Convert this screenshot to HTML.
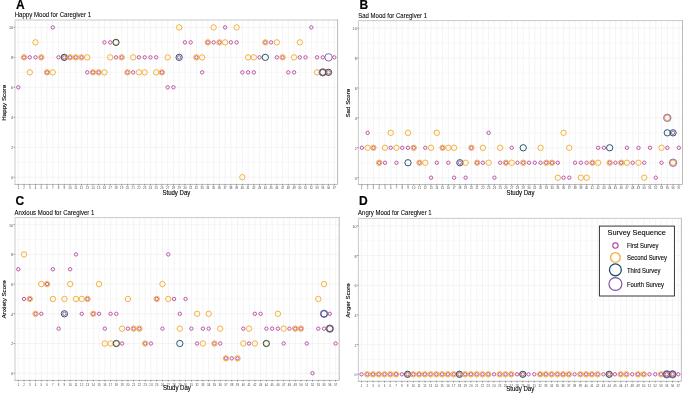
<!DOCTYPE html>
<html><head><meta charset="utf-8"><style>
html,body{margin:0;padding:0;background:#fff;}
svg{display:block;will-change:transform;}
text{font-family:"Liberation Sans",sans-serif;fill-opacity:0.995;}
.yt{font-size:3.7px;fill:#4d4d4d;text-anchor:end;}
.xt{font-size:2.95px;fill:#4d4d4d;text-anchor:middle;}
.lt{font-size:12px;font-weight:bold;fill:#000;stroke:#000;stroke-width:0.18px;}
.st{font-size:6.35px;fill:#000;stroke:#000;stroke-width:0.07px;}
.at{font-size:6.35px;fill:#000;stroke:#000;stroke-width:0.12px;}
.yl{font-size:6.2px;fill:#000;stroke:#000;stroke-width:0.12px;}
.lgt{font-size:7.6px;fill:#000;stroke:#000;stroke-width:0.1px;}
.lg{font-size:6.4px;fill:#000;stroke:#000;stroke-width:0.1px;}
</style></head><body>
<svg width="685" height="395" viewBox="0 0 685 395">
<line x1="14.85" x2="337.90" y1="162.22" y2="162.22" stroke="#F3F3F3" stroke-width="0.6"/>
<line x1="14.85" x2="337.90" y1="132.26" y2="132.26" stroke="#F3F3F3" stroke-width="0.6"/>
<line x1="14.85" x2="337.90" y1="102.30" y2="102.30" stroke="#F3F3F3" stroke-width="0.6"/>
<line x1="14.85" x2="337.90" y1="72.34" y2="72.34" stroke="#F3F3F3" stroke-width="0.6"/>
<line x1="14.85" x2="337.90" y1="42.38" y2="42.38" stroke="#F3F3F3" stroke-width="0.6"/>
<line x1="14.85" x2="337.90" y1="177.20" y2="177.20" stroke="#F1F1F1" stroke-width="0.8"/>
<line x1="14.85" x2="337.90" y1="147.24" y2="147.24" stroke="#F1F1F1" stroke-width="0.8"/>
<line x1="14.85" x2="337.90" y1="117.28" y2="117.28" stroke="#F1F1F1" stroke-width="0.8"/>
<line x1="14.85" x2="337.90" y1="87.32" y2="87.32" stroke="#F1F1F1" stroke-width="0.8"/>
<line x1="14.85" x2="337.90" y1="57.36" y2="57.36" stroke="#F1F1F1" stroke-width="0.8"/>
<line x1="14.85" x2="337.90" y1="27.40" y2="27.40" stroke="#F1F1F1" stroke-width="0.8"/>
<line x1="18.30" x2="18.30" y1="19.80" y2="184.40" stroke="#F1F1F1" stroke-width="0.8"/>
<line x1="24.05" x2="24.05" y1="19.80" y2="184.40" stroke="#F1F1F1" stroke-width="0.8"/>
<line x1="29.79" x2="29.79" y1="19.80" y2="184.40" stroke="#F1F1F1" stroke-width="0.8"/>
<line x1="35.53" x2="35.53" y1="19.80" y2="184.40" stroke="#F1F1F1" stroke-width="0.8"/>
<line x1="41.28" x2="41.28" y1="19.80" y2="184.40" stroke="#F1F1F1" stroke-width="0.8"/>
<line x1="47.03" x2="47.03" y1="19.80" y2="184.40" stroke="#F1F1F1" stroke-width="0.8"/>
<line x1="52.77" x2="52.77" y1="19.80" y2="184.40" stroke="#F1F1F1" stroke-width="0.8"/>
<line x1="58.52" x2="58.52" y1="19.80" y2="184.40" stroke="#F1F1F1" stroke-width="0.8"/>
<line x1="64.26" x2="64.26" y1="19.80" y2="184.40" stroke="#F1F1F1" stroke-width="0.8"/>
<line x1="70.00" x2="70.00" y1="19.80" y2="184.40" stroke="#F1F1F1" stroke-width="0.8"/>
<line x1="75.75" x2="75.75" y1="19.80" y2="184.40" stroke="#F1F1F1" stroke-width="0.8"/>
<line x1="81.50" x2="81.50" y1="19.80" y2="184.40" stroke="#F1F1F1" stroke-width="0.8"/>
<line x1="87.24" x2="87.24" y1="19.80" y2="184.40" stroke="#F1F1F1" stroke-width="0.8"/>
<line x1="92.98" x2="92.98" y1="19.80" y2="184.40" stroke="#F1F1F1" stroke-width="0.8"/>
<line x1="98.73" x2="98.73" y1="19.80" y2="184.40" stroke="#F1F1F1" stroke-width="0.8"/>
<line x1="104.47" x2="104.47" y1="19.80" y2="184.40" stroke="#F1F1F1" stroke-width="0.8"/>
<line x1="110.22" x2="110.22" y1="19.80" y2="184.40" stroke="#F1F1F1" stroke-width="0.8"/>
<line x1="115.97" x2="115.97" y1="19.80" y2="184.40" stroke="#F1F1F1" stroke-width="0.8"/>
<line x1="121.71" x2="121.71" y1="19.80" y2="184.40" stroke="#F1F1F1" stroke-width="0.8"/>
<line x1="127.45" x2="127.45" y1="19.80" y2="184.40" stroke="#F1F1F1" stroke-width="0.8"/>
<line x1="133.20" x2="133.20" y1="19.80" y2="184.40" stroke="#F1F1F1" stroke-width="0.8"/>
<line x1="138.94" x2="138.94" y1="19.80" y2="184.40" stroke="#F1F1F1" stroke-width="0.8"/>
<line x1="144.69" x2="144.69" y1="19.80" y2="184.40" stroke="#F1F1F1" stroke-width="0.8"/>
<line x1="150.44" x2="150.44" y1="19.80" y2="184.40" stroke="#F1F1F1" stroke-width="0.8"/>
<line x1="156.18" x2="156.18" y1="19.80" y2="184.40" stroke="#F1F1F1" stroke-width="0.8"/>
<line x1="161.93" x2="161.93" y1="19.80" y2="184.40" stroke="#F1F1F1" stroke-width="0.8"/>
<line x1="167.67" x2="167.67" y1="19.80" y2="184.40" stroke="#F1F1F1" stroke-width="0.8"/>
<line x1="173.42" x2="173.42" y1="19.80" y2="184.40" stroke="#F1F1F1" stroke-width="0.8"/>
<line x1="179.16" x2="179.16" y1="19.80" y2="184.40" stroke="#F1F1F1" stroke-width="0.8"/>
<line x1="184.91" x2="184.91" y1="19.80" y2="184.40" stroke="#F1F1F1" stroke-width="0.8"/>
<line x1="190.65" x2="190.65" y1="19.80" y2="184.40" stroke="#F1F1F1" stroke-width="0.8"/>
<line x1="196.40" x2="196.40" y1="19.80" y2="184.40" stroke="#F1F1F1" stroke-width="0.8"/>
<line x1="202.14" x2="202.14" y1="19.80" y2="184.40" stroke="#F1F1F1" stroke-width="0.8"/>
<line x1="207.89" x2="207.89" y1="19.80" y2="184.40" stroke="#F1F1F1" stroke-width="0.8"/>
<line x1="213.63" x2="213.63" y1="19.80" y2="184.40" stroke="#F1F1F1" stroke-width="0.8"/>
<line x1="219.38" x2="219.38" y1="19.80" y2="184.40" stroke="#F1F1F1" stroke-width="0.8"/>
<line x1="225.12" x2="225.12" y1="19.80" y2="184.40" stroke="#F1F1F1" stroke-width="0.8"/>
<line x1="230.87" x2="230.87" y1="19.80" y2="184.40" stroke="#F1F1F1" stroke-width="0.8"/>
<line x1="236.61" x2="236.61" y1="19.80" y2="184.40" stroke="#F1F1F1" stroke-width="0.8"/>
<line x1="242.36" x2="242.36" y1="19.80" y2="184.40" stroke="#F1F1F1" stroke-width="0.8"/>
<line x1="248.10" x2="248.10" y1="19.80" y2="184.40" stroke="#F1F1F1" stroke-width="0.8"/>
<line x1="253.85" x2="253.85" y1="19.80" y2="184.40" stroke="#F1F1F1" stroke-width="0.8"/>
<line x1="259.59" x2="259.59" y1="19.80" y2="184.40" stroke="#F1F1F1" stroke-width="0.8"/>
<line x1="265.33" x2="265.33" y1="19.80" y2="184.40" stroke="#F1F1F1" stroke-width="0.8"/>
<line x1="271.08" x2="271.08" y1="19.80" y2="184.40" stroke="#F1F1F1" stroke-width="0.8"/>
<line x1="276.82" x2="276.82" y1="19.80" y2="184.40" stroke="#F1F1F1" stroke-width="0.8"/>
<line x1="282.57" x2="282.57" y1="19.80" y2="184.40" stroke="#F1F1F1" stroke-width="0.8"/>
<line x1="288.31" x2="288.31" y1="19.80" y2="184.40" stroke="#F1F1F1" stroke-width="0.8"/>
<line x1="294.06" x2="294.06" y1="19.80" y2="184.40" stroke="#F1F1F1" stroke-width="0.8"/>
<line x1="299.81" x2="299.81" y1="19.80" y2="184.40" stroke="#F1F1F1" stroke-width="0.8"/>
<line x1="305.55" x2="305.55" y1="19.80" y2="184.40" stroke="#F1F1F1" stroke-width="0.8"/>
<line x1="311.30" x2="311.30" y1="19.80" y2="184.40" stroke="#F1F1F1" stroke-width="0.8"/>
<line x1="317.04" x2="317.04" y1="19.80" y2="184.40" stroke="#F1F1F1" stroke-width="0.8"/>
<line x1="322.79" x2="322.79" y1="19.80" y2="184.40" stroke="#F1F1F1" stroke-width="0.8"/>
<line x1="328.53" x2="328.53" y1="19.80" y2="184.40" stroke="#F1F1F1" stroke-width="0.8"/>
<line x1="334.28" x2="334.28" y1="19.80" y2="184.40" stroke="#F1F1F1" stroke-width="0.8"/>
<path d="M15.00,184.45V20.00H337.60" fill="none" stroke="#C4C4C4" stroke-width="0.9" stroke-linecap="square"/>
<path d="M337.60,20.00V184.45H15.00" fill="none" stroke="#B3B3B3" stroke-width="0.9" stroke-linecap="square"/>
<line x1="13.55" x2="14.85" y1="177.20" y2="177.20" stroke="#333" stroke-width="0.5"/>
<text x="13.05" y="179.15" class="yt">0</text>
<line x1="13.55" x2="14.85" y1="147.24" y2="147.24" stroke="#333" stroke-width="0.5"/>
<text x="13.05" y="149.19" class="yt">2</text>
<line x1="13.55" x2="14.85" y1="117.28" y2="117.28" stroke="#333" stroke-width="0.5"/>
<text x="13.05" y="119.23" class="yt">4</text>
<line x1="13.55" x2="14.85" y1="87.32" y2="87.32" stroke="#333" stroke-width="0.5"/>
<text x="13.05" y="89.27" class="yt">6</text>
<line x1="13.55" x2="14.85" y1="57.36" y2="57.36" stroke="#333" stroke-width="0.5"/>
<text x="13.05" y="59.31" class="yt">8</text>
<line x1="13.55" x2="14.85" y1="27.40" y2="27.40" stroke="#333" stroke-width="0.5"/>
<text x="13.05" y="29.35" class="yt">10</text>
<line x1="18.30" x2="18.30" y1="184.40" y2="185.70" stroke="#333" stroke-width="0.5"/>
<text x="18.30" y="189.35" class="xt">1</text>
<line x1="24.05" x2="24.05" y1="184.40" y2="185.70" stroke="#333" stroke-width="0.5"/>
<text x="24.05" y="189.35" class="xt">2</text>
<line x1="29.79" x2="29.79" y1="184.40" y2="185.70" stroke="#333" stroke-width="0.5"/>
<text x="29.79" y="189.35" class="xt">3</text>
<line x1="35.53" x2="35.53" y1="184.40" y2="185.70" stroke="#333" stroke-width="0.5"/>
<text x="35.53" y="189.35" class="xt">4</text>
<line x1="41.28" x2="41.28" y1="184.40" y2="185.70" stroke="#333" stroke-width="0.5"/>
<text x="41.28" y="189.35" class="xt">5</text>
<line x1="47.03" x2="47.03" y1="184.40" y2="185.70" stroke="#333" stroke-width="0.5"/>
<text x="47.03" y="189.35" class="xt">6</text>
<line x1="52.77" x2="52.77" y1="184.40" y2="185.70" stroke="#333" stroke-width="0.5"/>
<text x="52.77" y="189.35" class="xt">7</text>
<line x1="58.52" x2="58.52" y1="184.40" y2="185.70" stroke="#333" stroke-width="0.5"/>
<text x="58.52" y="189.35" class="xt">8</text>
<line x1="64.26" x2="64.26" y1="184.40" y2="185.70" stroke="#333" stroke-width="0.5"/>
<text x="64.26" y="189.35" class="xt">9</text>
<line x1="70.00" x2="70.00" y1="184.40" y2="185.70" stroke="#333" stroke-width="0.5"/>
<text x="70.00" y="189.35" class="xt">10</text>
<line x1="75.75" x2="75.75" y1="184.40" y2="185.70" stroke="#333" stroke-width="0.5"/>
<text x="75.75" y="189.35" class="xt">11</text>
<line x1="81.50" x2="81.50" y1="184.40" y2="185.70" stroke="#333" stroke-width="0.5"/>
<text x="81.50" y="189.35" class="xt">12</text>
<line x1="87.24" x2="87.24" y1="184.40" y2="185.70" stroke="#333" stroke-width="0.5"/>
<text x="87.24" y="189.35" class="xt">13</text>
<line x1="92.98" x2="92.98" y1="184.40" y2="185.70" stroke="#333" stroke-width="0.5"/>
<text x="92.98" y="189.35" class="xt">14</text>
<line x1="98.73" x2="98.73" y1="184.40" y2="185.70" stroke="#333" stroke-width="0.5"/>
<text x="98.73" y="189.35" class="xt">15</text>
<line x1="104.47" x2="104.47" y1="184.40" y2="185.70" stroke="#333" stroke-width="0.5"/>
<text x="104.47" y="189.35" class="xt">16</text>
<line x1="110.22" x2="110.22" y1="184.40" y2="185.70" stroke="#333" stroke-width="0.5"/>
<text x="110.22" y="189.35" class="xt">17</text>
<line x1="115.97" x2="115.97" y1="184.40" y2="185.70" stroke="#333" stroke-width="0.5"/>
<text x="115.97" y="189.35" class="xt">18</text>
<line x1="121.71" x2="121.71" y1="184.40" y2="185.70" stroke="#333" stroke-width="0.5"/>
<text x="121.71" y="189.35" class="xt">19</text>
<line x1="127.45" x2="127.45" y1="184.40" y2="185.70" stroke="#333" stroke-width="0.5"/>
<text x="127.45" y="189.35" class="xt">20</text>
<line x1="133.20" x2="133.20" y1="184.40" y2="185.70" stroke="#333" stroke-width="0.5"/>
<text x="133.20" y="189.35" class="xt">21</text>
<line x1="138.94" x2="138.94" y1="184.40" y2="185.70" stroke="#333" stroke-width="0.5"/>
<text x="138.94" y="189.35" class="xt">22</text>
<line x1="144.69" x2="144.69" y1="184.40" y2="185.70" stroke="#333" stroke-width="0.5"/>
<text x="144.69" y="189.35" class="xt">23</text>
<line x1="150.44" x2="150.44" y1="184.40" y2="185.70" stroke="#333" stroke-width="0.5"/>
<text x="150.44" y="189.35" class="xt">24</text>
<line x1="156.18" x2="156.18" y1="184.40" y2="185.70" stroke="#333" stroke-width="0.5"/>
<text x="156.18" y="189.35" class="xt">25</text>
<line x1="161.93" x2="161.93" y1="184.40" y2="185.70" stroke="#333" stroke-width="0.5"/>
<text x="161.93" y="189.35" class="xt">26</text>
<line x1="167.67" x2="167.67" y1="184.40" y2="185.70" stroke="#333" stroke-width="0.5"/>
<text x="167.67" y="189.35" class="xt">27</text>
<line x1="173.42" x2="173.42" y1="184.40" y2="185.70" stroke="#333" stroke-width="0.5"/>
<text x="173.42" y="189.35" class="xt">28</text>
<line x1="179.16" x2="179.16" y1="184.40" y2="185.70" stroke="#333" stroke-width="0.5"/>
<text x="179.16" y="189.35" class="xt">29</text>
<line x1="184.91" x2="184.91" y1="184.40" y2="185.70" stroke="#333" stroke-width="0.5"/>
<text x="184.91" y="189.35" class="xt">30</text>
<line x1="190.65" x2="190.65" y1="184.40" y2="185.70" stroke="#333" stroke-width="0.5"/>
<text x="190.65" y="189.35" class="xt">31</text>
<line x1="196.40" x2="196.40" y1="184.40" y2="185.70" stroke="#333" stroke-width="0.5"/>
<text x="196.40" y="189.35" class="xt">32</text>
<line x1="202.14" x2="202.14" y1="184.40" y2="185.70" stroke="#333" stroke-width="0.5"/>
<text x="202.14" y="189.35" class="xt">33</text>
<line x1="207.89" x2="207.89" y1="184.40" y2="185.70" stroke="#333" stroke-width="0.5"/>
<text x="207.89" y="189.35" class="xt">34</text>
<line x1="213.63" x2="213.63" y1="184.40" y2="185.70" stroke="#333" stroke-width="0.5"/>
<text x="213.63" y="189.35" class="xt">35</text>
<line x1="219.38" x2="219.38" y1="184.40" y2="185.70" stroke="#333" stroke-width="0.5"/>
<text x="219.38" y="189.35" class="xt">36</text>
<line x1="225.12" x2="225.12" y1="184.40" y2="185.70" stroke="#333" stroke-width="0.5"/>
<text x="225.12" y="189.35" class="xt">37</text>
<line x1="230.87" x2="230.87" y1="184.40" y2="185.70" stroke="#333" stroke-width="0.5"/>
<text x="230.87" y="189.35" class="xt">38</text>
<line x1="236.61" x2="236.61" y1="184.40" y2="185.70" stroke="#333" stroke-width="0.5"/>
<text x="236.61" y="189.35" class="xt">39</text>
<line x1="242.36" x2="242.36" y1="184.40" y2="185.70" stroke="#333" stroke-width="0.5"/>
<text x="242.36" y="189.35" class="xt">40</text>
<line x1="248.10" x2="248.10" y1="184.40" y2="185.70" stroke="#333" stroke-width="0.5"/>
<text x="248.10" y="189.35" class="xt">41</text>
<line x1="253.85" x2="253.85" y1="184.40" y2="185.70" stroke="#333" stroke-width="0.5"/>
<text x="253.85" y="189.35" class="xt">42</text>
<line x1="259.59" x2="259.59" y1="184.40" y2="185.70" stroke="#333" stroke-width="0.5"/>
<text x="259.59" y="189.35" class="xt">43</text>
<line x1="265.33" x2="265.33" y1="184.40" y2="185.70" stroke="#333" stroke-width="0.5"/>
<text x="265.33" y="189.35" class="xt">44</text>
<line x1="271.08" x2="271.08" y1="184.40" y2="185.70" stroke="#333" stroke-width="0.5"/>
<text x="271.08" y="189.35" class="xt">45</text>
<line x1="276.82" x2="276.82" y1="184.40" y2="185.70" stroke="#333" stroke-width="0.5"/>
<text x="276.82" y="189.35" class="xt">46</text>
<line x1="282.57" x2="282.57" y1="184.40" y2="185.70" stroke="#333" stroke-width="0.5"/>
<text x="282.57" y="189.35" class="xt">47</text>
<line x1="288.31" x2="288.31" y1="184.40" y2="185.70" stroke="#333" stroke-width="0.5"/>
<text x="288.31" y="189.35" class="xt">48</text>
<line x1="294.06" x2="294.06" y1="184.40" y2="185.70" stroke="#333" stroke-width="0.5"/>
<text x="294.06" y="189.35" class="xt">49</text>
<line x1="299.81" x2="299.81" y1="184.40" y2="185.70" stroke="#333" stroke-width="0.5"/>
<text x="299.81" y="189.35" class="xt">50</text>
<line x1="305.55" x2="305.55" y1="184.40" y2="185.70" stroke="#333" stroke-width="0.5"/>
<text x="305.55" y="189.35" class="xt">51</text>
<line x1="311.30" x2="311.30" y1="184.40" y2="185.70" stroke="#333" stroke-width="0.5"/>
<text x="311.30" y="189.35" class="xt">52</text>
<line x1="317.04" x2="317.04" y1="184.40" y2="185.70" stroke="#333" stroke-width="0.5"/>
<text x="317.04" y="189.35" class="xt">53</text>
<line x1="322.79" x2="322.79" y1="184.40" y2="185.70" stroke="#333" stroke-width="0.5"/>
<text x="322.79" y="189.35" class="xt">55</text>
<line x1="328.53" x2="328.53" y1="184.40" y2="185.70" stroke="#333" stroke-width="0.5"/>
<text x="328.53" y="189.35" class="xt">56</text>
<line x1="334.28" x2="334.28" y1="184.40" y2="185.70" stroke="#333" stroke-width="0.5"/>
<text x="334.28" y="189.35" class="xt">57</text>
<circle cx="18.30" cy="87.32" r="1.7" fill="none" stroke="#B8479D" stroke-width="0.9"/>
<circle cx="24.05" cy="57.36" r="1.7" fill="none" stroke="#B8479D" stroke-width="0.9"/>
<circle cx="24.05" cy="57.36" r="2.7" fill="none" stroke="#F5A828" stroke-width="0.9"/>
<circle cx="29.79" cy="57.36" r="1.7" fill="none" stroke="#B8479D" stroke-width="0.9"/>
<circle cx="29.79" cy="72.34" r="2.7" fill="none" stroke="#F5A828" stroke-width="0.9"/>
<circle cx="35.53" cy="57.36" r="1.7" fill="none" stroke="#B8479D" stroke-width="0.9"/>
<circle cx="35.53" cy="42.38" r="2.7" fill="none" stroke="#F5A828" stroke-width="0.9"/>
<circle cx="41.28" cy="57.36" r="1.7" fill="none" stroke="#B8479D" stroke-width="0.9"/>
<circle cx="41.28" cy="57.36" r="2.7" fill="none" stroke="#F5A828" stroke-width="0.9"/>
<circle cx="47.03" cy="72.34" r="1.7" fill="none" stroke="#B8479D" stroke-width="0.9"/>
<circle cx="47.03" cy="72.34" r="2.7" fill="none" stroke="#F5A828" stroke-width="0.9"/>
<circle cx="52.77" cy="27.40" r="1.7" fill="none" stroke="#B8479D" stroke-width="0.9"/>
<circle cx="52.77" cy="72.34" r="2.7" fill="none" stroke="#F5A828" stroke-width="0.9"/>
<circle cx="58.52" cy="57.36" r="1.7" fill="none" stroke="#B8479D" stroke-width="0.9"/>
<circle cx="64.26" cy="57.36" r="1.7" fill="none" stroke="#B8479D" stroke-width="0.9"/>
<circle cx="64.26" cy="57.36" r="2.7" fill="none" stroke="#F5A828" stroke-width="0.9"/>
<circle cx="64.26" cy="57.36" r="3.15" fill="none" stroke="#1E4D68" stroke-width="0.95"/>
<circle cx="70.00" cy="57.36" r="1.7" fill="none" stroke="#B8479D" stroke-width="0.9"/>
<circle cx="70.00" cy="57.36" r="2.7" fill="none" stroke="#F5A828" stroke-width="0.9"/>
<circle cx="75.75" cy="57.36" r="1.7" fill="none" stroke="#B8479D" stroke-width="0.9"/>
<circle cx="75.75" cy="57.36" r="2.7" fill="none" stroke="#F5A828" stroke-width="0.9"/>
<circle cx="81.50" cy="57.36" r="1.7" fill="none" stroke="#B8479D" stroke-width="0.9"/>
<circle cx="81.50" cy="57.36" r="2.7" fill="none" stroke="#F5A828" stroke-width="0.9"/>
<circle cx="87.24" cy="72.34" r="1.7" fill="none" stroke="#B8479D" stroke-width="0.9"/>
<circle cx="87.24" cy="57.36" r="2.7" fill="none" stroke="#F5A828" stroke-width="0.9"/>
<circle cx="92.98" cy="72.34" r="1.7" fill="none" stroke="#B8479D" stroke-width="0.9"/>
<circle cx="92.98" cy="72.34" r="2.7" fill="none" stroke="#F5A828" stroke-width="0.9"/>
<circle cx="98.73" cy="72.34" r="1.7" fill="none" stroke="#B8479D" stroke-width="0.9"/>
<circle cx="98.73" cy="72.34" r="2.7" fill="none" stroke="#F5A828" stroke-width="0.9"/>
<circle cx="104.47" cy="42.38" r="1.7" fill="none" stroke="#B8479D" stroke-width="0.9"/>
<circle cx="104.47" cy="72.34" r="2.7" fill="none" stroke="#F5A828" stroke-width="0.9"/>
<circle cx="110.22" cy="42.38" r="1.7" fill="none" stroke="#B8479D" stroke-width="0.9"/>
<circle cx="110.22" cy="57.36" r="2.7" fill="none" stroke="#F5A828" stroke-width="0.9"/>
<circle cx="115.97" cy="57.36" r="1.7" fill="none" stroke="#B8479D" stroke-width="0.9"/>
<circle cx="115.97" cy="42.38" r="2.7" fill="none" stroke="#F5A828" stroke-width="0.9"/>
<circle cx="115.97" cy="42.38" r="3.15" fill="none" stroke="#1E4D68" stroke-width="0.95"/>
<circle cx="121.71" cy="57.36" r="1.7" fill="none" stroke="#B8479D" stroke-width="0.9"/>
<circle cx="121.71" cy="57.36" r="2.7" fill="none" stroke="#F5A828" stroke-width="0.9"/>
<circle cx="127.45" cy="72.34" r="1.7" fill="none" stroke="#B8479D" stroke-width="0.9"/>
<circle cx="127.45" cy="72.34" r="2.7" fill="none" stroke="#F5A828" stroke-width="0.9"/>
<circle cx="133.20" cy="72.34" r="1.7" fill="none" stroke="#B8479D" stroke-width="0.9"/>
<circle cx="133.20" cy="57.36" r="2.7" fill="none" stroke="#F5A828" stroke-width="0.9"/>
<circle cx="138.94" cy="57.36" r="1.7" fill="none" stroke="#B8479D" stroke-width="0.9"/>
<circle cx="138.94" cy="72.34" r="2.7" fill="none" stroke="#F5A828" stroke-width="0.9"/>
<circle cx="144.69" cy="57.36" r="1.7" fill="none" stroke="#B8479D" stroke-width="0.9"/>
<circle cx="144.69" cy="72.34" r="2.7" fill="none" stroke="#F5A828" stroke-width="0.9"/>
<circle cx="150.44" cy="57.36" r="1.7" fill="none" stroke="#B8479D" stroke-width="0.9"/>
<circle cx="156.18" cy="57.36" r="1.7" fill="none" stroke="#B8479D" stroke-width="0.9"/>
<circle cx="156.18" cy="72.34" r="2.7" fill="none" stroke="#F5A828" stroke-width="0.9"/>
<circle cx="161.93" cy="72.34" r="1.7" fill="none" stroke="#B8479D" stroke-width="0.9"/>
<circle cx="161.93" cy="72.34" r="2.7" fill="none" stroke="#F5A828" stroke-width="0.9"/>
<circle cx="167.67" cy="87.32" r="1.7" fill="none" stroke="#B8479D" stroke-width="0.9"/>
<circle cx="167.67" cy="57.36" r="2.7" fill="none" stroke="#F5A828" stroke-width="0.9"/>
<circle cx="173.42" cy="87.32" r="1.7" fill="none" stroke="#B8479D" stroke-width="0.9"/>
<circle cx="179.16" cy="57.36" r="1.7" fill="none" stroke="#B8479D" stroke-width="0.9"/>
<circle cx="179.16" cy="27.40" r="2.7" fill="none" stroke="#F5A828" stroke-width="0.9"/>
<circle cx="179.16" cy="57.36" r="3.15" fill="none" stroke="#1E4D68" stroke-width="0.95"/>
<circle cx="184.91" cy="42.38" r="1.7" fill="none" stroke="#B8479D" stroke-width="0.9"/>
<circle cx="190.65" cy="42.38" r="1.7" fill="none" stroke="#B8479D" stroke-width="0.9"/>
<circle cx="196.40" cy="57.36" r="1.7" fill="none" stroke="#B8479D" stroke-width="0.9"/>
<circle cx="196.40" cy="57.36" r="2.7" fill="none" stroke="#F5A828" stroke-width="0.9"/>
<circle cx="202.14" cy="72.34" r="1.7" fill="none" stroke="#B8479D" stroke-width="0.9"/>
<circle cx="202.14" cy="57.36" r="2.7" fill="none" stroke="#F5A828" stroke-width="0.9"/>
<circle cx="207.89" cy="42.38" r="1.7" fill="none" stroke="#B8479D" stroke-width="0.9"/>
<circle cx="207.89" cy="42.38" r="2.7" fill="none" stroke="#F5A828" stroke-width="0.9"/>
<circle cx="213.63" cy="42.38" r="1.7" fill="none" stroke="#B8479D" stroke-width="0.9"/>
<circle cx="213.63" cy="27.40" r="2.7" fill="none" stroke="#F5A828" stroke-width="0.9"/>
<circle cx="219.38" cy="42.38" r="1.7" fill="none" stroke="#B8479D" stroke-width="0.9"/>
<circle cx="219.38" cy="42.38" r="2.7" fill="none" stroke="#F5A828" stroke-width="0.9"/>
<circle cx="225.12" cy="27.40" r="1.7" fill="none" stroke="#B8479D" stroke-width="0.9"/>
<circle cx="225.12" cy="42.38" r="2.7" fill="none" stroke="#F5A828" stroke-width="0.9"/>
<circle cx="230.87" cy="42.38" r="1.7" fill="none" stroke="#B8479D" stroke-width="0.9"/>
<circle cx="236.61" cy="42.38" r="1.7" fill="none" stroke="#B8479D" stroke-width="0.9"/>
<circle cx="236.61" cy="27.40" r="2.7" fill="none" stroke="#F5A828" stroke-width="0.9"/>
<circle cx="242.36" cy="72.34" r="1.7" fill="none" stroke="#B8479D" stroke-width="0.9"/>
<circle cx="242.36" cy="177.20" r="2.7" fill="none" stroke="#F5A828" stroke-width="0.9"/>
<circle cx="248.10" cy="72.34" r="1.7" fill="none" stroke="#B8479D" stroke-width="0.9"/>
<circle cx="248.10" cy="57.36" r="2.7" fill="none" stroke="#F5A828" stroke-width="0.9"/>
<circle cx="253.85" cy="72.34" r="1.7" fill="none" stroke="#B8479D" stroke-width="0.9"/>
<circle cx="253.85" cy="57.36" r="2.7" fill="none" stroke="#F5A828" stroke-width="0.9"/>
<circle cx="259.59" cy="57.36" r="1.7" fill="none" stroke="#B8479D" stroke-width="0.9"/>
<circle cx="265.33" cy="42.38" r="1.7" fill="none" stroke="#B8479D" stroke-width="0.9"/>
<circle cx="265.33" cy="42.38" r="2.7" fill="none" stroke="#F5A828" stroke-width="0.9"/>
<circle cx="265.33" cy="57.36" r="3.15" fill="none" stroke="#1E4D68" stroke-width="0.95"/>
<circle cx="271.08" cy="42.38" r="1.7" fill="none" stroke="#B8479D" stroke-width="0.9"/>
<circle cx="276.82" cy="57.36" r="1.7" fill="none" stroke="#B8479D" stroke-width="0.9"/>
<circle cx="276.82" cy="42.38" r="2.7" fill="none" stroke="#F5A828" stroke-width="0.9"/>
<circle cx="282.57" cy="57.36" r="1.7" fill="none" stroke="#B8479D" stroke-width="0.9"/>
<circle cx="282.57" cy="57.36" r="2.7" fill="none" stroke="#F5A828" stroke-width="0.9"/>
<circle cx="288.31" cy="72.34" r="1.7" fill="none" stroke="#B8479D" stroke-width="0.9"/>
<circle cx="294.06" cy="72.34" r="1.7" fill="none" stroke="#B8479D" stroke-width="0.9"/>
<circle cx="294.06" cy="57.36" r="2.7" fill="none" stroke="#F5A828" stroke-width="0.9"/>
<circle cx="299.81" cy="57.36" r="1.7" fill="none" stroke="#B8479D" stroke-width="0.9"/>
<circle cx="299.81" cy="42.38" r="2.7" fill="none" stroke="#F5A828" stroke-width="0.9"/>
<circle cx="305.55" cy="57.36" r="1.7" fill="none" stroke="#B8479D" stroke-width="0.9"/>
<circle cx="311.30" cy="27.40" r="1.7" fill="none" stroke="#B8479D" stroke-width="0.9"/>
<circle cx="317.04" cy="57.36" r="1.7" fill="none" stroke="#B8479D" stroke-width="0.9"/>
<circle cx="317.04" cy="72.34" r="2.7" fill="none" stroke="#F5A828" stroke-width="0.9"/>
<circle cx="322.79" cy="57.36" r="1.7" fill="none" stroke="#B8479D" stroke-width="0.9"/>
<circle cx="322.79" cy="72.34" r="2.7" fill="none" stroke="#F5A828" stroke-width="0.9"/>
<circle cx="322.79" cy="72.34" r="3.15" fill="none" stroke="#1E4D68" stroke-width="0.95"/>
<circle cx="322.79" cy="72.34" r="3.7" fill="none" stroke="#7B52A6" stroke-width="0.85"/>
<circle cx="328.53" cy="72.34" r="1.7" fill="none" stroke="#B8479D" stroke-width="0.9"/>
<circle cx="328.53" cy="72.34" r="2.7" fill="none" stroke="#F5A828" stroke-width="0.9"/>
<circle cx="328.53" cy="72.34" r="3.15" fill="none" stroke="#1E4D68" stroke-width="0.95"/>
<circle cx="328.53" cy="57.36" r="3.7" fill="none" stroke="#7B52A6" stroke-width="0.85"/>
<circle cx="334.28" cy="57.36" r="1.7" fill="none" stroke="#B8479D" stroke-width="0.9"/>
<text x="15.90" y="8.90" class="lt">A</text>
<text x="14.70" y="16.90" class="st" textLength="76.4" lengthAdjust="spacingAndGlyphs">Happy Mood for Caregiver 1</text>
<text x="176.38" y="194.55" class="at" text-anchor="middle" textLength="27.9" lengthAdjust="spacingAndGlyphs">Study Day</text>
<text transform="translate(6.05,102.80) rotate(-90)" class="yl" text-anchor="middle">Happy Score</text>
<line x1="358.50" x2="682.60" y1="162.74" y2="162.74" stroke="#F3F3F3" stroke-width="0.6"/>
<line x1="358.50" x2="682.60" y1="132.82" y2="132.82" stroke="#F3F3F3" stroke-width="0.6"/>
<line x1="358.50" x2="682.60" y1="102.90" y2="102.90" stroke="#F3F3F3" stroke-width="0.6"/>
<line x1="358.50" x2="682.60" y1="72.98" y2="72.98" stroke="#F3F3F3" stroke-width="0.6"/>
<line x1="358.50" x2="682.60" y1="43.06" y2="43.06" stroke="#F3F3F3" stroke-width="0.6"/>
<line x1="358.50" x2="682.60" y1="177.70" y2="177.70" stroke="#F1F1F1" stroke-width="0.8"/>
<line x1="358.50" x2="682.60" y1="147.78" y2="147.78" stroke="#F1F1F1" stroke-width="0.8"/>
<line x1="358.50" x2="682.60" y1="117.86" y2="117.86" stroke="#F1F1F1" stroke-width="0.8"/>
<line x1="358.50" x2="682.60" y1="87.94" y2="87.94" stroke="#F1F1F1" stroke-width="0.8"/>
<line x1="358.50" x2="682.60" y1="58.02" y2="58.02" stroke="#F1F1F1" stroke-width="0.8"/>
<line x1="358.50" x2="682.60" y1="28.10" y2="28.10" stroke="#F1F1F1" stroke-width="0.8"/>
<line x1="361.90" x2="361.90" y1="20.30" y2="184.60" stroke="#F1F1F1" stroke-width="0.8"/>
<line x1="367.66" x2="367.66" y1="20.30" y2="184.60" stroke="#F1F1F1" stroke-width="0.8"/>
<line x1="373.42" x2="373.42" y1="20.30" y2="184.60" stroke="#F1F1F1" stroke-width="0.8"/>
<line x1="379.19" x2="379.19" y1="20.30" y2="184.60" stroke="#F1F1F1" stroke-width="0.8"/>
<line x1="384.95" x2="384.95" y1="20.30" y2="184.60" stroke="#F1F1F1" stroke-width="0.8"/>
<line x1="390.71" x2="390.71" y1="20.30" y2="184.60" stroke="#F1F1F1" stroke-width="0.8"/>
<line x1="396.47" x2="396.47" y1="20.30" y2="184.60" stroke="#F1F1F1" stroke-width="0.8"/>
<line x1="402.23" x2="402.23" y1="20.30" y2="184.60" stroke="#F1F1F1" stroke-width="0.8"/>
<line x1="408.00" x2="408.00" y1="20.30" y2="184.60" stroke="#F1F1F1" stroke-width="0.8"/>
<line x1="413.76" x2="413.76" y1="20.30" y2="184.60" stroke="#F1F1F1" stroke-width="0.8"/>
<line x1="419.52" x2="419.52" y1="20.30" y2="184.60" stroke="#F1F1F1" stroke-width="0.8"/>
<line x1="425.28" x2="425.28" y1="20.30" y2="184.60" stroke="#F1F1F1" stroke-width="0.8"/>
<line x1="431.04" x2="431.04" y1="20.30" y2="184.60" stroke="#F1F1F1" stroke-width="0.8"/>
<line x1="436.81" x2="436.81" y1="20.30" y2="184.60" stroke="#F1F1F1" stroke-width="0.8"/>
<line x1="442.57" x2="442.57" y1="20.30" y2="184.60" stroke="#F1F1F1" stroke-width="0.8"/>
<line x1="448.33" x2="448.33" y1="20.30" y2="184.60" stroke="#F1F1F1" stroke-width="0.8"/>
<line x1="454.09" x2="454.09" y1="20.30" y2="184.60" stroke="#F1F1F1" stroke-width="0.8"/>
<line x1="459.85" x2="459.85" y1="20.30" y2="184.60" stroke="#F1F1F1" stroke-width="0.8"/>
<line x1="465.62" x2="465.62" y1="20.30" y2="184.60" stroke="#F1F1F1" stroke-width="0.8"/>
<line x1="471.38" x2="471.38" y1="20.30" y2="184.60" stroke="#F1F1F1" stroke-width="0.8"/>
<line x1="477.14" x2="477.14" y1="20.30" y2="184.60" stroke="#F1F1F1" stroke-width="0.8"/>
<line x1="482.90" x2="482.90" y1="20.30" y2="184.60" stroke="#F1F1F1" stroke-width="0.8"/>
<line x1="488.66" x2="488.66" y1="20.30" y2="184.60" stroke="#F1F1F1" stroke-width="0.8"/>
<line x1="494.43" x2="494.43" y1="20.30" y2="184.60" stroke="#F1F1F1" stroke-width="0.8"/>
<line x1="500.19" x2="500.19" y1="20.30" y2="184.60" stroke="#F1F1F1" stroke-width="0.8"/>
<line x1="505.95" x2="505.95" y1="20.30" y2="184.60" stroke="#F1F1F1" stroke-width="0.8"/>
<line x1="511.71" x2="511.71" y1="20.30" y2="184.60" stroke="#F1F1F1" stroke-width="0.8"/>
<line x1="517.47" x2="517.47" y1="20.30" y2="184.60" stroke="#F1F1F1" stroke-width="0.8"/>
<line x1="523.24" x2="523.24" y1="20.30" y2="184.60" stroke="#F1F1F1" stroke-width="0.8"/>
<line x1="529.00" x2="529.00" y1="20.30" y2="184.60" stroke="#F1F1F1" stroke-width="0.8"/>
<line x1="534.76" x2="534.76" y1="20.30" y2="184.60" stroke="#F1F1F1" stroke-width="0.8"/>
<line x1="540.52" x2="540.52" y1="20.30" y2="184.60" stroke="#F1F1F1" stroke-width="0.8"/>
<line x1="546.28" x2="546.28" y1="20.30" y2="184.60" stroke="#F1F1F1" stroke-width="0.8"/>
<line x1="552.05" x2="552.05" y1="20.30" y2="184.60" stroke="#F1F1F1" stroke-width="0.8"/>
<line x1="557.81" x2="557.81" y1="20.30" y2="184.60" stroke="#F1F1F1" stroke-width="0.8"/>
<line x1="563.57" x2="563.57" y1="20.30" y2="184.60" stroke="#F1F1F1" stroke-width="0.8"/>
<line x1="569.33" x2="569.33" y1="20.30" y2="184.60" stroke="#F1F1F1" stroke-width="0.8"/>
<line x1="575.09" x2="575.09" y1="20.30" y2="184.60" stroke="#F1F1F1" stroke-width="0.8"/>
<line x1="580.86" x2="580.86" y1="20.30" y2="184.60" stroke="#F1F1F1" stroke-width="0.8"/>
<line x1="586.62" x2="586.62" y1="20.30" y2="184.60" stroke="#F1F1F1" stroke-width="0.8"/>
<line x1="592.38" x2="592.38" y1="20.30" y2="184.60" stroke="#F1F1F1" stroke-width="0.8"/>
<line x1="598.14" x2="598.14" y1="20.30" y2="184.60" stroke="#F1F1F1" stroke-width="0.8"/>
<line x1="603.90" x2="603.90" y1="20.30" y2="184.60" stroke="#F1F1F1" stroke-width="0.8"/>
<line x1="609.67" x2="609.67" y1="20.30" y2="184.60" stroke="#F1F1F1" stroke-width="0.8"/>
<line x1="615.43" x2="615.43" y1="20.30" y2="184.60" stroke="#F1F1F1" stroke-width="0.8"/>
<line x1="621.19" x2="621.19" y1="20.30" y2="184.60" stroke="#F1F1F1" stroke-width="0.8"/>
<line x1="626.95" x2="626.95" y1="20.30" y2="184.60" stroke="#F1F1F1" stroke-width="0.8"/>
<line x1="632.71" x2="632.71" y1="20.30" y2="184.60" stroke="#F1F1F1" stroke-width="0.8"/>
<line x1="638.48" x2="638.48" y1="20.30" y2="184.60" stroke="#F1F1F1" stroke-width="0.8"/>
<line x1="644.24" x2="644.24" y1="20.30" y2="184.60" stroke="#F1F1F1" stroke-width="0.8"/>
<line x1="650.00" x2="650.00" y1="20.30" y2="184.60" stroke="#F1F1F1" stroke-width="0.8"/>
<line x1="655.76" x2="655.76" y1="20.30" y2="184.60" stroke="#F1F1F1" stroke-width="0.8"/>
<line x1="661.52" x2="661.52" y1="20.30" y2="184.60" stroke="#F1F1F1" stroke-width="0.8"/>
<line x1="667.29" x2="667.29" y1="20.30" y2="184.60" stroke="#F1F1F1" stroke-width="0.8"/>
<line x1="673.05" x2="673.05" y1="20.30" y2="184.60" stroke="#F1F1F1" stroke-width="0.8"/>
<line x1="678.81" x2="678.81" y1="20.30" y2="184.60" stroke="#F1F1F1" stroke-width="0.8"/>
<path d="M358.40,184.50V20.60H682.50" fill="none" stroke="#C4C4C4" stroke-width="0.9" stroke-linecap="square"/>
<path d="M682.50,20.60V184.50H358.40" fill="none" stroke="#B3B3B3" stroke-width="0.9" stroke-linecap="square"/>
<line x1="357.20" x2="358.50" y1="177.70" y2="177.70" stroke="#333" stroke-width="0.5"/>
<text x="356.70" y="179.65" class="yt">0</text>
<line x1="357.20" x2="358.50" y1="147.78" y2="147.78" stroke="#333" stroke-width="0.5"/>
<text x="356.70" y="149.73" class="yt">2</text>
<line x1="357.20" x2="358.50" y1="117.86" y2="117.86" stroke="#333" stroke-width="0.5"/>
<text x="356.70" y="119.81" class="yt">4</text>
<line x1="357.20" x2="358.50" y1="87.94" y2="87.94" stroke="#333" stroke-width="0.5"/>
<text x="356.70" y="89.89" class="yt">6</text>
<line x1="357.20" x2="358.50" y1="58.02" y2="58.02" stroke="#333" stroke-width="0.5"/>
<text x="356.70" y="59.97" class="yt">8</text>
<line x1="357.20" x2="358.50" y1="28.10" y2="28.10" stroke="#333" stroke-width="0.5"/>
<text x="356.70" y="30.05" class="yt">10</text>
<line x1="361.90" x2="361.90" y1="184.60" y2="185.90" stroke="#333" stroke-width="0.5"/>
<text x="361.90" y="189.45" class="xt">1</text>
<line x1="367.66" x2="367.66" y1="184.60" y2="185.90" stroke="#333" stroke-width="0.5"/>
<text x="367.66" y="189.45" class="xt">2</text>
<line x1="373.42" x2="373.42" y1="184.60" y2="185.90" stroke="#333" stroke-width="0.5"/>
<text x="373.42" y="189.45" class="xt">3</text>
<line x1="379.19" x2="379.19" y1="184.60" y2="185.90" stroke="#333" stroke-width="0.5"/>
<text x="379.19" y="189.45" class="xt">4</text>
<line x1="384.95" x2="384.95" y1="184.60" y2="185.90" stroke="#333" stroke-width="0.5"/>
<text x="384.95" y="189.45" class="xt">5</text>
<line x1="390.71" x2="390.71" y1="184.60" y2="185.90" stroke="#333" stroke-width="0.5"/>
<text x="390.71" y="189.45" class="xt">6</text>
<line x1="396.47" x2="396.47" y1="184.60" y2="185.90" stroke="#333" stroke-width="0.5"/>
<text x="396.47" y="189.45" class="xt">7</text>
<line x1="402.23" x2="402.23" y1="184.60" y2="185.90" stroke="#333" stroke-width="0.5"/>
<text x="402.23" y="189.45" class="xt">8</text>
<line x1="408.00" x2="408.00" y1="184.60" y2="185.90" stroke="#333" stroke-width="0.5"/>
<text x="408.00" y="189.45" class="xt">9</text>
<line x1="413.76" x2="413.76" y1="184.60" y2="185.90" stroke="#333" stroke-width="0.5"/>
<text x="413.76" y="189.45" class="xt">10</text>
<line x1="419.52" x2="419.52" y1="184.60" y2="185.90" stroke="#333" stroke-width="0.5"/>
<text x="419.52" y="189.45" class="xt">11</text>
<line x1="425.28" x2="425.28" y1="184.60" y2="185.90" stroke="#333" stroke-width="0.5"/>
<text x="425.28" y="189.45" class="xt">12</text>
<line x1="431.04" x2="431.04" y1="184.60" y2="185.90" stroke="#333" stroke-width="0.5"/>
<text x="431.04" y="189.45" class="xt">13</text>
<line x1="436.81" x2="436.81" y1="184.60" y2="185.90" stroke="#333" stroke-width="0.5"/>
<text x="436.81" y="189.45" class="xt">14</text>
<line x1="442.57" x2="442.57" y1="184.60" y2="185.90" stroke="#333" stroke-width="0.5"/>
<text x="442.57" y="189.45" class="xt">15</text>
<line x1="448.33" x2="448.33" y1="184.60" y2="185.90" stroke="#333" stroke-width="0.5"/>
<text x="448.33" y="189.45" class="xt">16</text>
<line x1="454.09" x2="454.09" y1="184.60" y2="185.90" stroke="#333" stroke-width="0.5"/>
<text x="454.09" y="189.45" class="xt">17</text>
<line x1="459.85" x2="459.85" y1="184.60" y2="185.90" stroke="#333" stroke-width="0.5"/>
<text x="459.85" y="189.45" class="xt">18</text>
<line x1="465.62" x2="465.62" y1="184.60" y2="185.90" stroke="#333" stroke-width="0.5"/>
<text x="465.62" y="189.45" class="xt">19</text>
<line x1="471.38" x2="471.38" y1="184.60" y2="185.90" stroke="#333" stroke-width="0.5"/>
<text x="471.38" y="189.45" class="xt">20</text>
<line x1="477.14" x2="477.14" y1="184.60" y2="185.90" stroke="#333" stroke-width="0.5"/>
<text x="477.14" y="189.45" class="xt">21</text>
<line x1="482.90" x2="482.90" y1="184.60" y2="185.90" stroke="#333" stroke-width="0.5"/>
<text x="482.90" y="189.45" class="xt">22</text>
<line x1="488.66" x2="488.66" y1="184.60" y2="185.90" stroke="#333" stroke-width="0.5"/>
<text x="488.66" y="189.45" class="xt">23</text>
<line x1="494.43" x2="494.43" y1="184.60" y2="185.90" stroke="#333" stroke-width="0.5"/>
<text x="494.43" y="189.45" class="xt">24</text>
<line x1="500.19" x2="500.19" y1="184.60" y2="185.90" stroke="#333" stroke-width="0.5"/>
<text x="500.19" y="189.45" class="xt">25</text>
<line x1="505.95" x2="505.95" y1="184.60" y2="185.90" stroke="#333" stroke-width="0.5"/>
<text x="505.95" y="189.45" class="xt">26</text>
<line x1="511.71" x2="511.71" y1="184.60" y2="185.90" stroke="#333" stroke-width="0.5"/>
<text x="511.71" y="189.45" class="xt">27</text>
<line x1="517.47" x2="517.47" y1="184.60" y2="185.90" stroke="#333" stroke-width="0.5"/>
<text x="517.47" y="189.45" class="xt">28</text>
<line x1="523.24" x2="523.24" y1="184.60" y2="185.90" stroke="#333" stroke-width="0.5"/>
<text x="523.24" y="189.45" class="xt">29</text>
<line x1="529.00" x2="529.00" y1="184.60" y2="185.90" stroke="#333" stroke-width="0.5"/>
<text x="529.00" y="189.45" class="xt">30</text>
<line x1="534.76" x2="534.76" y1="184.60" y2="185.90" stroke="#333" stroke-width="0.5"/>
<text x="534.76" y="189.45" class="xt">31</text>
<line x1="540.52" x2="540.52" y1="184.60" y2="185.90" stroke="#333" stroke-width="0.5"/>
<text x="540.52" y="189.45" class="xt">32</text>
<line x1="546.28" x2="546.28" y1="184.60" y2="185.90" stroke="#333" stroke-width="0.5"/>
<text x="546.28" y="189.45" class="xt">33</text>
<line x1="552.05" x2="552.05" y1="184.60" y2="185.90" stroke="#333" stroke-width="0.5"/>
<text x="552.05" y="189.45" class="xt">34</text>
<line x1="557.81" x2="557.81" y1="184.60" y2="185.90" stroke="#333" stroke-width="0.5"/>
<text x="557.81" y="189.45" class="xt">35</text>
<line x1="563.57" x2="563.57" y1="184.60" y2="185.90" stroke="#333" stroke-width="0.5"/>
<text x="563.57" y="189.45" class="xt">36</text>
<line x1="569.33" x2="569.33" y1="184.60" y2="185.90" stroke="#333" stroke-width="0.5"/>
<text x="569.33" y="189.45" class="xt">37</text>
<line x1="575.09" x2="575.09" y1="184.60" y2="185.90" stroke="#333" stroke-width="0.5"/>
<text x="575.09" y="189.45" class="xt">38</text>
<line x1="580.86" x2="580.86" y1="184.60" y2="185.90" stroke="#333" stroke-width="0.5"/>
<text x="580.86" y="189.45" class="xt">39</text>
<line x1="586.62" x2="586.62" y1="184.60" y2="185.90" stroke="#333" stroke-width="0.5"/>
<text x="586.62" y="189.45" class="xt">40</text>
<line x1="592.38" x2="592.38" y1="184.60" y2="185.90" stroke="#333" stroke-width="0.5"/>
<text x="592.38" y="189.45" class="xt">41</text>
<line x1="598.14" x2="598.14" y1="184.60" y2="185.90" stroke="#333" stroke-width="0.5"/>
<text x="598.14" y="189.45" class="xt">42</text>
<line x1="603.90" x2="603.90" y1="184.60" y2="185.90" stroke="#333" stroke-width="0.5"/>
<text x="603.90" y="189.45" class="xt">43</text>
<line x1="609.67" x2="609.67" y1="184.60" y2="185.90" stroke="#333" stroke-width="0.5"/>
<text x="609.67" y="189.45" class="xt">44</text>
<line x1="615.43" x2="615.43" y1="184.60" y2="185.90" stroke="#333" stroke-width="0.5"/>
<text x="615.43" y="189.45" class="xt">45</text>
<line x1="621.19" x2="621.19" y1="184.60" y2="185.90" stroke="#333" stroke-width="0.5"/>
<text x="621.19" y="189.45" class="xt">46</text>
<line x1="626.95" x2="626.95" y1="184.60" y2="185.90" stroke="#333" stroke-width="0.5"/>
<text x="626.95" y="189.45" class="xt">47</text>
<line x1="632.71" x2="632.71" y1="184.60" y2="185.90" stroke="#333" stroke-width="0.5"/>
<text x="632.71" y="189.45" class="xt">48</text>
<line x1="638.48" x2="638.48" y1="184.60" y2="185.90" stroke="#333" stroke-width="0.5"/>
<text x="638.48" y="189.45" class="xt">49</text>
<line x1="644.24" x2="644.24" y1="184.60" y2="185.90" stroke="#333" stroke-width="0.5"/>
<text x="644.24" y="189.45" class="xt">50</text>
<line x1="650.00" x2="650.00" y1="184.60" y2="185.90" stroke="#333" stroke-width="0.5"/>
<text x="650.00" y="189.45" class="xt">51</text>
<line x1="655.76" x2="655.76" y1="184.60" y2="185.90" stroke="#333" stroke-width="0.5"/>
<text x="655.76" y="189.45" class="xt">52</text>
<line x1="661.52" x2="661.52" y1="184.60" y2="185.90" stroke="#333" stroke-width="0.5"/>
<text x="661.52" y="189.45" class="xt">53</text>
<line x1="667.29" x2="667.29" y1="184.60" y2="185.90" stroke="#333" stroke-width="0.5"/>
<text x="667.29" y="189.45" class="xt">55</text>
<line x1="673.05" x2="673.05" y1="184.60" y2="185.90" stroke="#333" stroke-width="0.5"/>
<text x="673.05" y="189.45" class="xt">56</text>
<line x1="678.81" x2="678.81" y1="184.60" y2="185.90" stroke="#333" stroke-width="0.5"/>
<text x="678.81" y="189.45" class="xt">57</text>
<circle cx="361.90" cy="147.78" r="1.7" fill="none" stroke="#B8479D" stroke-width="0.9"/>
<circle cx="367.66" cy="132.82" r="1.7" fill="none" stroke="#B8479D" stroke-width="0.9"/>
<circle cx="367.66" cy="147.78" r="2.7" fill="none" stroke="#F5A828" stroke-width="0.9"/>
<circle cx="373.42" cy="147.78" r="1.7" fill="none" stroke="#B8479D" stroke-width="0.9"/>
<circle cx="373.42" cy="147.78" r="2.7" fill="none" stroke="#F5A828" stroke-width="0.9"/>
<circle cx="379.19" cy="162.74" r="1.7" fill="none" stroke="#B8479D" stroke-width="0.9"/>
<circle cx="379.19" cy="162.74" r="2.7" fill="none" stroke="#F5A828" stroke-width="0.9"/>
<circle cx="384.95" cy="162.74" r="1.7" fill="none" stroke="#B8479D" stroke-width="0.9"/>
<circle cx="384.95" cy="147.78" r="2.7" fill="none" stroke="#F5A828" stroke-width="0.9"/>
<circle cx="390.71" cy="147.78" r="1.7" fill="none" stroke="#B8479D" stroke-width="0.9"/>
<circle cx="390.71" cy="132.82" r="2.7" fill="none" stroke="#F5A828" stroke-width="0.9"/>
<circle cx="396.47" cy="162.74" r="1.7" fill="none" stroke="#B8479D" stroke-width="0.9"/>
<circle cx="396.47" cy="147.78" r="2.7" fill="none" stroke="#F5A828" stroke-width="0.9"/>
<circle cx="402.23" cy="147.78" r="1.7" fill="none" stroke="#B8479D" stroke-width="0.9"/>
<circle cx="408.00" cy="147.78" r="1.7" fill="none" stroke="#B8479D" stroke-width="0.9"/>
<circle cx="408.00" cy="132.82" r="2.7" fill="none" stroke="#F5A828" stroke-width="0.9"/>
<circle cx="408.00" cy="162.74" r="3.15" fill="none" stroke="#1E4D68" stroke-width="0.95"/>
<circle cx="413.76" cy="147.78" r="1.7" fill="none" stroke="#B8479D" stroke-width="0.9"/>
<circle cx="413.76" cy="147.78" r="2.7" fill="none" stroke="#F5A828" stroke-width="0.9"/>
<circle cx="419.52" cy="162.74" r="1.7" fill="none" stroke="#B8479D" stroke-width="0.9"/>
<circle cx="419.52" cy="162.74" r="2.7" fill="none" stroke="#F5A828" stroke-width="0.9"/>
<circle cx="425.28" cy="147.78" r="1.7" fill="none" stroke="#B8479D" stroke-width="0.9"/>
<circle cx="425.28" cy="162.74" r="2.7" fill="none" stroke="#F5A828" stroke-width="0.9"/>
<circle cx="431.04" cy="177.70" r="1.7" fill="none" stroke="#B8479D" stroke-width="0.9"/>
<circle cx="431.04" cy="147.78" r="2.7" fill="none" stroke="#F5A828" stroke-width="0.9"/>
<circle cx="436.81" cy="162.74" r="1.7" fill="none" stroke="#B8479D" stroke-width="0.9"/>
<circle cx="436.81" cy="132.82" r="2.7" fill="none" stroke="#F5A828" stroke-width="0.9"/>
<circle cx="442.57" cy="147.78" r="1.7" fill="none" stroke="#B8479D" stroke-width="0.9"/>
<circle cx="442.57" cy="147.78" r="2.7" fill="none" stroke="#F5A828" stroke-width="0.9"/>
<circle cx="448.33" cy="162.74" r="1.7" fill="none" stroke="#B8479D" stroke-width="0.9"/>
<circle cx="448.33" cy="147.78" r="2.7" fill="none" stroke="#F5A828" stroke-width="0.9"/>
<circle cx="454.09" cy="177.70" r="1.7" fill="none" stroke="#B8479D" stroke-width="0.9"/>
<circle cx="454.09" cy="147.78" r="2.7" fill="none" stroke="#F5A828" stroke-width="0.9"/>
<circle cx="459.85" cy="162.74" r="1.7" fill="none" stroke="#B8479D" stroke-width="0.9"/>
<circle cx="459.85" cy="162.74" r="3.15" fill="none" stroke="#1E4D68" stroke-width="0.95"/>
<circle cx="465.62" cy="177.70" r="1.7" fill="none" stroke="#B8479D" stroke-width="0.9"/>
<circle cx="465.62" cy="162.74" r="2.7" fill="none" stroke="#F5A828" stroke-width="0.9"/>
<circle cx="471.38" cy="147.78" r="1.7" fill="none" stroke="#B8479D" stroke-width="0.9"/>
<circle cx="471.38" cy="147.78" r="2.7" fill="none" stroke="#F5A828" stroke-width="0.9"/>
<circle cx="477.14" cy="162.74" r="1.7" fill="none" stroke="#B8479D" stroke-width="0.9"/>
<circle cx="477.14" cy="162.74" r="2.7" fill="none" stroke="#F5A828" stroke-width="0.9"/>
<circle cx="482.90" cy="162.74" r="1.7" fill="none" stroke="#B8479D" stroke-width="0.9"/>
<circle cx="482.90" cy="147.78" r="2.7" fill="none" stroke="#F5A828" stroke-width="0.9"/>
<circle cx="488.66" cy="132.82" r="1.7" fill="none" stroke="#B8479D" stroke-width="0.9"/>
<circle cx="488.66" cy="162.74" r="2.7" fill="none" stroke="#F5A828" stroke-width="0.9"/>
<circle cx="494.43" cy="177.70" r="1.7" fill="none" stroke="#B8479D" stroke-width="0.9"/>
<circle cx="500.19" cy="162.74" r="1.7" fill="none" stroke="#B8479D" stroke-width="0.9"/>
<circle cx="500.19" cy="147.78" r="2.7" fill="none" stroke="#F5A828" stroke-width="0.9"/>
<circle cx="505.95" cy="162.74" r="1.7" fill="none" stroke="#B8479D" stroke-width="0.9"/>
<circle cx="505.95" cy="162.74" r="2.7" fill="none" stroke="#F5A828" stroke-width="0.9"/>
<circle cx="511.71" cy="147.78" r="1.7" fill="none" stroke="#B8479D" stroke-width="0.9"/>
<circle cx="511.71" cy="162.74" r="2.7" fill="none" stroke="#F5A828" stroke-width="0.9"/>
<circle cx="517.47" cy="162.74" r="1.7" fill="none" stroke="#B8479D" stroke-width="0.9"/>
<circle cx="523.24" cy="162.74" r="1.7" fill="none" stroke="#B8479D" stroke-width="0.9"/>
<circle cx="523.24" cy="162.74" r="2.7" fill="none" stroke="#F5A828" stroke-width="0.9"/>
<circle cx="523.24" cy="147.78" r="3.15" fill="none" stroke="#1E4D68" stroke-width="0.95"/>
<circle cx="529.00" cy="162.74" r="1.7" fill="none" stroke="#B8479D" stroke-width="0.9"/>
<circle cx="534.76" cy="162.74" r="1.7" fill="none" stroke="#B8479D" stroke-width="0.9"/>
<circle cx="540.52" cy="162.74" r="1.7" fill="none" stroke="#B8479D" stroke-width="0.9"/>
<circle cx="540.52" cy="147.78" r="2.7" fill="none" stroke="#F5A828" stroke-width="0.9"/>
<circle cx="546.28" cy="162.74" r="1.7" fill="none" stroke="#B8479D" stroke-width="0.9"/>
<circle cx="546.28" cy="162.74" r="2.7" fill="none" stroke="#F5A828" stroke-width="0.9"/>
<circle cx="552.05" cy="162.74" r="1.7" fill="none" stroke="#B8479D" stroke-width="0.9"/>
<circle cx="552.05" cy="162.74" r="2.7" fill="none" stroke="#F5A828" stroke-width="0.9"/>
<circle cx="557.81" cy="162.74" r="1.7" fill="none" stroke="#B8479D" stroke-width="0.9"/>
<circle cx="557.81" cy="177.70" r="2.7" fill="none" stroke="#F5A828" stroke-width="0.9"/>
<circle cx="563.57" cy="177.70" r="1.7" fill="none" stroke="#B8479D" stroke-width="0.9"/>
<circle cx="563.57" cy="132.82" r="2.7" fill="none" stroke="#F5A828" stroke-width="0.9"/>
<circle cx="569.33" cy="177.70" r="1.7" fill="none" stroke="#B8479D" stroke-width="0.9"/>
<circle cx="569.33" cy="147.78" r="2.7" fill="none" stroke="#F5A828" stroke-width="0.9"/>
<circle cx="575.09" cy="162.74" r="1.7" fill="none" stroke="#B8479D" stroke-width="0.9"/>
<circle cx="580.86" cy="162.74" r="1.7" fill="none" stroke="#B8479D" stroke-width="0.9"/>
<circle cx="580.86" cy="177.70" r="2.7" fill="none" stroke="#F5A828" stroke-width="0.9"/>
<circle cx="586.62" cy="162.74" r="1.7" fill="none" stroke="#B8479D" stroke-width="0.9"/>
<circle cx="586.62" cy="177.70" r="2.7" fill="none" stroke="#F5A828" stroke-width="0.9"/>
<circle cx="592.38" cy="162.74" r="1.7" fill="none" stroke="#B8479D" stroke-width="0.9"/>
<circle cx="592.38" cy="162.74" r="2.7" fill="none" stroke="#F5A828" stroke-width="0.9"/>
<circle cx="598.14" cy="147.78" r="1.7" fill="none" stroke="#B8479D" stroke-width="0.9"/>
<circle cx="598.14" cy="162.74" r="2.7" fill="none" stroke="#F5A828" stroke-width="0.9"/>
<circle cx="603.90" cy="147.78" r="1.7" fill="none" stroke="#B8479D" stroke-width="0.9"/>
<circle cx="609.67" cy="162.74" r="1.7" fill="none" stroke="#B8479D" stroke-width="0.9"/>
<circle cx="609.67" cy="162.74" r="2.7" fill="none" stroke="#F5A828" stroke-width="0.9"/>
<circle cx="609.67" cy="147.78" r="3.15" fill="none" stroke="#1E4D68" stroke-width="0.95"/>
<circle cx="615.43" cy="162.74" r="1.7" fill="none" stroke="#B8479D" stroke-width="0.9"/>
<circle cx="621.19" cy="162.74" r="1.7" fill="none" stroke="#B8479D" stroke-width="0.9"/>
<circle cx="621.19" cy="162.74" r="2.7" fill="none" stroke="#F5A828" stroke-width="0.9"/>
<circle cx="626.95" cy="147.78" r="1.7" fill="none" stroke="#B8479D" stroke-width="0.9"/>
<circle cx="626.95" cy="162.74" r="2.7" fill="none" stroke="#F5A828" stroke-width="0.9"/>
<circle cx="632.71" cy="162.74" r="1.7" fill="none" stroke="#B8479D" stroke-width="0.9"/>
<circle cx="638.48" cy="147.78" r="1.7" fill="none" stroke="#B8479D" stroke-width="0.9"/>
<circle cx="638.48" cy="162.74" r="2.7" fill="none" stroke="#F5A828" stroke-width="0.9"/>
<circle cx="644.24" cy="162.74" r="1.7" fill="none" stroke="#B8479D" stroke-width="0.9"/>
<circle cx="644.24" cy="177.70" r="2.7" fill="none" stroke="#F5A828" stroke-width="0.9"/>
<circle cx="650.00" cy="147.78" r="1.7" fill="none" stroke="#B8479D" stroke-width="0.9"/>
<circle cx="655.76" cy="177.70" r="1.7" fill="none" stroke="#B8479D" stroke-width="0.9"/>
<circle cx="661.52" cy="162.74" r="1.7" fill="none" stroke="#B8479D" stroke-width="0.9"/>
<circle cx="661.52" cy="147.78" r="2.7" fill="none" stroke="#F5A828" stroke-width="0.9"/>
<circle cx="667.29" cy="147.78" r="1.7" fill="none" stroke="#B8479D" stroke-width="0.9"/>
<circle cx="667.29" cy="117.86" r="2.7" fill="none" stroke="#F5A828" stroke-width="0.9"/>
<circle cx="667.29" cy="132.82" r="3.15" fill="none" stroke="#1E4D68" stroke-width="0.95"/>
<circle cx="667.29" cy="117.86" r="3.7" fill="none" stroke="#7B52A6" stroke-width="0.85"/>
<circle cx="673.05" cy="132.82" r="1.7" fill="none" stroke="#B8479D" stroke-width="0.9"/>
<circle cx="673.05" cy="162.74" r="2.7" fill="none" stroke="#F5A828" stroke-width="0.9"/>
<circle cx="673.05" cy="132.82" r="3.15" fill="none" stroke="#1E4D68" stroke-width="0.95"/>
<circle cx="673.05" cy="162.74" r="3.7" fill="none" stroke="#7B52A6" stroke-width="0.85"/>
<circle cx="678.81" cy="147.78" r="1.7" fill="none" stroke="#B8479D" stroke-width="0.9"/>
<text x="359.40" y="8.90" class="lt">B</text>
<text x="358.20" y="17.60" class="st" textLength="68.9" lengthAdjust="spacingAndGlyphs">Sad Mood for Caregiver 1</text>
<text x="520.55" y="194.75" class="at" text-anchor="middle" textLength="27.9" lengthAdjust="spacingAndGlyphs">Study Day</text>
<text transform="translate(349.70,103.15) rotate(-90)" class="yl" text-anchor="middle">Sad Score</text>
<line x1="14.80" x2="339.00" y1="358.35" y2="358.35" stroke="#F3F3F3" stroke-width="0.6"/>
<line x1="14.80" x2="339.00" y1="328.65" y2="328.65" stroke="#F3F3F3" stroke-width="0.6"/>
<line x1="14.80" x2="339.00" y1="298.95" y2="298.95" stroke="#F3F3F3" stroke-width="0.6"/>
<line x1="14.80" x2="339.00" y1="269.25" y2="269.25" stroke="#F3F3F3" stroke-width="0.6"/>
<line x1="14.80" x2="339.00" y1="239.55" y2="239.55" stroke="#F3F3F3" stroke-width="0.6"/>
<line x1="14.80" x2="339.00" y1="373.20" y2="373.20" stroke="#F1F1F1" stroke-width="0.8"/>
<line x1="14.80" x2="339.00" y1="343.50" y2="343.50" stroke="#F1F1F1" stroke-width="0.8"/>
<line x1="14.80" x2="339.00" y1="313.80" y2="313.80" stroke="#F1F1F1" stroke-width="0.8"/>
<line x1="14.80" x2="339.00" y1="284.10" y2="284.10" stroke="#F1F1F1" stroke-width="0.8"/>
<line x1="14.80" x2="339.00" y1="254.40" y2="254.40" stroke="#F1F1F1" stroke-width="0.8"/>
<line x1="14.80" x2="339.00" y1="224.70" y2="224.70" stroke="#F1F1F1" stroke-width="0.8"/>
<line x1="18.25" x2="18.25" y1="217.30" y2="380.20" stroke="#F1F1F1" stroke-width="0.8"/>
<line x1="24.02" x2="24.02" y1="217.30" y2="380.20" stroke="#F1F1F1" stroke-width="0.8"/>
<line x1="29.79" x2="29.79" y1="217.30" y2="380.20" stroke="#F1F1F1" stroke-width="0.8"/>
<line x1="35.56" x2="35.56" y1="217.30" y2="380.20" stroke="#F1F1F1" stroke-width="0.8"/>
<line x1="41.33" x2="41.33" y1="217.30" y2="380.20" stroke="#F1F1F1" stroke-width="0.8"/>
<line x1="47.10" x2="47.10" y1="217.30" y2="380.20" stroke="#F1F1F1" stroke-width="0.8"/>
<line x1="52.87" x2="52.87" y1="217.30" y2="380.20" stroke="#F1F1F1" stroke-width="0.8"/>
<line x1="58.64" x2="58.64" y1="217.30" y2="380.20" stroke="#F1F1F1" stroke-width="0.8"/>
<line x1="64.41" x2="64.41" y1="217.30" y2="380.20" stroke="#F1F1F1" stroke-width="0.8"/>
<line x1="70.18" x2="70.18" y1="217.30" y2="380.20" stroke="#F1F1F1" stroke-width="0.8"/>
<line x1="75.95" x2="75.95" y1="217.30" y2="380.20" stroke="#F1F1F1" stroke-width="0.8"/>
<line x1="81.72" x2="81.72" y1="217.30" y2="380.20" stroke="#F1F1F1" stroke-width="0.8"/>
<line x1="87.49" x2="87.49" y1="217.30" y2="380.20" stroke="#F1F1F1" stroke-width="0.8"/>
<line x1="93.26" x2="93.26" y1="217.30" y2="380.20" stroke="#F1F1F1" stroke-width="0.8"/>
<line x1="99.03" x2="99.03" y1="217.30" y2="380.20" stroke="#F1F1F1" stroke-width="0.8"/>
<line x1="104.80" x2="104.80" y1="217.30" y2="380.20" stroke="#F1F1F1" stroke-width="0.8"/>
<line x1="110.57" x2="110.57" y1="217.30" y2="380.20" stroke="#F1F1F1" stroke-width="0.8"/>
<line x1="116.34" x2="116.34" y1="217.30" y2="380.20" stroke="#F1F1F1" stroke-width="0.8"/>
<line x1="122.11" x2="122.11" y1="217.30" y2="380.20" stroke="#F1F1F1" stroke-width="0.8"/>
<line x1="127.88" x2="127.88" y1="217.30" y2="380.20" stroke="#F1F1F1" stroke-width="0.8"/>
<line x1="133.65" x2="133.65" y1="217.30" y2="380.20" stroke="#F1F1F1" stroke-width="0.8"/>
<line x1="139.42" x2="139.42" y1="217.30" y2="380.20" stroke="#F1F1F1" stroke-width="0.8"/>
<line x1="145.19" x2="145.19" y1="217.30" y2="380.20" stroke="#F1F1F1" stroke-width="0.8"/>
<line x1="150.96" x2="150.96" y1="217.30" y2="380.20" stroke="#F1F1F1" stroke-width="0.8"/>
<line x1="156.73" x2="156.73" y1="217.30" y2="380.20" stroke="#F1F1F1" stroke-width="0.8"/>
<line x1="162.50" x2="162.50" y1="217.30" y2="380.20" stroke="#F1F1F1" stroke-width="0.8"/>
<line x1="168.27" x2="168.27" y1="217.30" y2="380.20" stroke="#F1F1F1" stroke-width="0.8"/>
<line x1="174.04" x2="174.04" y1="217.30" y2="380.20" stroke="#F1F1F1" stroke-width="0.8"/>
<line x1="179.81" x2="179.81" y1="217.30" y2="380.20" stroke="#F1F1F1" stroke-width="0.8"/>
<line x1="185.58" x2="185.58" y1="217.30" y2="380.20" stroke="#F1F1F1" stroke-width="0.8"/>
<line x1="191.35" x2="191.35" y1="217.30" y2="380.20" stroke="#F1F1F1" stroke-width="0.8"/>
<line x1="197.12" x2="197.12" y1="217.30" y2="380.20" stroke="#F1F1F1" stroke-width="0.8"/>
<line x1="202.89" x2="202.89" y1="217.30" y2="380.20" stroke="#F1F1F1" stroke-width="0.8"/>
<line x1="208.66" x2="208.66" y1="217.30" y2="380.20" stroke="#F1F1F1" stroke-width="0.8"/>
<line x1="214.43" x2="214.43" y1="217.30" y2="380.20" stroke="#F1F1F1" stroke-width="0.8"/>
<line x1="220.20" x2="220.20" y1="217.30" y2="380.20" stroke="#F1F1F1" stroke-width="0.8"/>
<line x1="225.97" x2="225.97" y1="217.30" y2="380.20" stroke="#F1F1F1" stroke-width="0.8"/>
<line x1="231.74" x2="231.74" y1="217.30" y2="380.20" stroke="#F1F1F1" stroke-width="0.8"/>
<line x1="237.51" x2="237.51" y1="217.30" y2="380.20" stroke="#F1F1F1" stroke-width="0.8"/>
<line x1="243.28" x2="243.28" y1="217.30" y2="380.20" stroke="#F1F1F1" stroke-width="0.8"/>
<line x1="249.05" x2="249.05" y1="217.30" y2="380.20" stroke="#F1F1F1" stroke-width="0.8"/>
<line x1="254.82" x2="254.82" y1="217.30" y2="380.20" stroke="#F1F1F1" stroke-width="0.8"/>
<line x1="260.59" x2="260.59" y1="217.30" y2="380.20" stroke="#F1F1F1" stroke-width="0.8"/>
<line x1="266.36" x2="266.36" y1="217.30" y2="380.20" stroke="#F1F1F1" stroke-width="0.8"/>
<line x1="272.13" x2="272.13" y1="217.30" y2="380.20" stroke="#F1F1F1" stroke-width="0.8"/>
<line x1="277.90" x2="277.90" y1="217.30" y2="380.20" stroke="#F1F1F1" stroke-width="0.8"/>
<line x1="283.67" x2="283.67" y1="217.30" y2="380.20" stroke="#F1F1F1" stroke-width="0.8"/>
<line x1="289.44" x2="289.44" y1="217.30" y2="380.20" stroke="#F1F1F1" stroke-width="0.8"/>
<line x1="295.21" x2="295.21" y1="217.30" y2="380.20" stroke="#F1F1F1" stroke-width="0.8"/>
<line x1="300.98" x2="300.98" y1="217.30" y2="380.20" stroke="#F1F1F1" stroke-width="0.8"/>
<line x1="306.75" x2="306.75" y1="217.30" y2="380.20" stroke="#F1F1F1" stroke-width="0.8"/>
<line x1="312.52" x2="312.52" y1="217.30" y2="380.20" stroke="#F1F1F1" stroke-width="0.8"/>
<line x1="318.29" x2="318.29" y1="217.30" y2="380.20" stroke="#F1F1F1" stroke-width="0.8"/>
<line x1="324.06" x2="324.06" y1="217.30" y2="380.20" stroke="#F1F1F1" stroke-width="0.8"/>
<line x1="329.83" x2="329.83" y1="217.30" y2="380.20" stroke="#F1F1F1" stroke-width="0.8"/>
<line x1="335.60" x2="335.60" y1="217.30" y2="380.20" stroke="#F1F1F1" stroke-width="0.8"/>
<path d="M15.00,380.40V217.60H339.20" fill="none" stroke="#C4C4C4" stroke-width="0.9" stroke-linecap="square"/>
<path d="M339.20,217.60V380.40H15.00" fill="none" stroke="#B3B3B3" stroke-width="0.9" stroke-linecap="square"/>
<line x1="13.50" x2="14.80" y1="373.20" y2="373.20" stroke="#333" stroke-width="0.5"/>
<text x="13.00" y="375.15" class="yt">0</text>
<line x1="13.50" x2="14.80" y1="343.50" y2="343.50" stroke="#333" stroke-width="0.5"/>
<text x="13.00" y="345.45" class="yt">2</text>
<line x1="13.50" x2="14.80" y1="313.80" y2="313.80" stroke="#333" stroke-width="0.5"/>
<text x="13.00" y="315.75" class="yt">4</text>
<line x1="13.50" x2="14.80" y1="284.10" y2="284.10" stroke="#333" stroke-width="0.5"/>
<text x="13.00" y="286.05" class="yt">6</text>
<line x1="13.50" x2="14.80" y1="254.40" y2="254.40" stroke="#333" stroke-width="0.5"/>
<text x="13.00" y="256.35" class="yt">8</text>
<line x1="13.50" x2="14.80" y1="224.70" y2="224.70" stroke="#333" stroke-width="0.5"/>
<text x="13.00" y="226.65" class="yt">10</text>
<line x1="18.25" x2="18.25" y1="380.20" y2="381.50" stroke="#333" stroke-width="0.5"/>
<text x="18.25" y="385.90" class="xt">1</text>
<line x1="24.02" x2="24.02" y1="380.20" y2="381.50" stroke="#333" stroke-width="0.5"/>
<text x="24.02" y="385.90" class="xt">2</text>
<line x1="29.79" x2="29.79" y1="380.20" y2="381.50" stroke="#333" stroke-width="0.5"/>
<text x="29.79" y="385.90" class="xt">3</text>
<line x1="35.56" x2="35.56" y1="380.20" y2="381.50" stroke="#333" stroke-width="0.5"/>
<text x="35.56" y="385.90" class="xt">4</text>
<line x1="41.33" x2="41.33" y1="380.20" y2="381.50" stroke="#333" stroke-width="0.5"/>
<text x="41.33" y="385.90" class="xt">5</text>
<line x1="47.10" x2="47.10" y1="380.20" y2="381.50" stroke="#333" stroke-width="0.5"/>
<text x="47.10" y="385.90" class="xt">6</text>
<line x1="52.87" x2="52.87" y1="380.20" y2="381.50" stroke="#333" stroke-width="0.5"/>
<text x="52.87" y="385.90" class="xt">7</text>
<line x1="58.64" x2="58.64" y1="380.20" y2="381.50" stroke="#333" stroke-width="0.5"/>
<text x="58.64" y="385.90" class="xt">8</text>
<line x1="64.41" x2="64.41" y1="380.20" y2="381.50" stroke="#333" stroke-width="0.5"/>
<text x="64.41" y="385.90" class="xt">9</text>
<line x1="70.18" x2="70.18" y1="380.20" y2="381.50" stroke="#333" stroke-width="0.5"/>
<text x="70.18" y="385.90" class="xt">10</text>
<line x1="75.95" x2="75.95" y1="380.20" y2="381.50" stroke="#333" stroke-width="0.5"/>
<text x="75.95" y="385.90" class="xt">11</text>
<line x1="81.72" x2="81.72" y1="380.20" y2="381.50" stroke="#333" stroke-width="0.5"/>
<text x="81.72" y="385.90" class="xt">12</text>
<line x1="87.49" x2="87.49" y1="380.20" y2="381.50" stroke="#333" stroke-width="0.5"/>
<text x="87.49" y="385.90" class="xt">13</text>
<line x1="93.26" x2="93.26" y1="380.20" y2="381.50" stroke="#333" stroke-width="0.5"/>
<text x="93.26" y="385.90" class="xt">14</text>
<line x1="99.03" x2="99.03" y1="380.20" y2="381.50" stroke="#333" stroke-width="0.5"/>
<text x="99.03" y="385.90" class="xt">15</text>
<line x1="104.80" x2="104.80" y1="380.20" y2="381.50" stroke="#333" stroke-width="0.5"/>
<text x="104.80" y="385.90" class="xt">16</text>
<line x1="110.57" x2="110.57" y1="380.20" y2="381.50" stroke="#333" stroke-width="0.5"/>
<text x="110.57" y="385.90" class="xt">17</text>
<line x1="116.34" x2="116.34" y1="380.20" y2="381.50" stroke="#333" stroke-width="0.5"/>
<text x="116.34" y="385.90" class="xt">18</text>
<line x1="122.11" x2="122.11" y1="380.20" y2="381.50" stroke="#333" stroke-width="0.5"/>
<text x="122.11" y="385.90" class="xt">19</text>
<line x1="127.88" x2="127.88" y1="380.20" y2="381.50" stroke="#333" stroke-width="0.5"/>
<text x="127.88" y="385.90" class="xt">20</text>
<line x1="133.65" x2="133.65" y1="380.20" y2="381.50" stroke="#333" stroke-width="0.5"/>
<text x="133.65" y="385.90" class="xt">21</text>
<line x1="139.42" x2="139.42" y1="380.20" y2="381.50" stroke="#333" stroke-width="0.5"/>
<text x="139.42" y="385.90" class="xt">22</text>
<line x1="145.19" x2="145.19" y1="380.20" y2="381.50" stroke="#333" stroke-width="0.5"/>
<text x="145.19" y="385.90" class="xt">23</text>
<line x1="150.96" x2="150.96" y1="380.20" y2="381.50" stroke="#333" stroke-width="0.5"/>
<text x="150.96" y="385.90" class="xt">24</text>
<line x1="156.73" x2="156.73" y1="380.20" y2="381.50" stroke="#333" stroke-width="0.5"/>
<text x="156.73" y="385.90" class="xt">25</text>
<line x1="162.50" x2="162.50" y1="380.20" y2="381.50" stroke="#333" stroke-width="0.5"/>
<text x="162.50" y="385.90" class="xt">26</text>
<line x1="168.27" x2="168.27" y1="380.20" y2="381.50" stroke="#333" stroke-width="0.5"/>
<text x="168.27" y="385.90" class="xt">27</text>
<line x1="174.04" x2="174.04" y1="380.20" y2="381.50" stroke="#333" stroke-width="0.5"/>
<text x="174.04" y="385.90" class="xt">28</text>
<line x1="179.81" x2="179.81" y1="380.20" y2="381.50" stroke="#333" stroke-width="0.5"/>
<text x="179.81" y="385.90" class="xt">29</text>
<line x1="185.58" x2="185.58" y1="380.20" y2="381.50" stroke="#333" stroke-width="0.5"/>
<text x="185.58" y="385.90" class="xt">30</text>
<line x1="191.35" x2="191.35" y1="380.20" y2="381.50" stroke="#333" stroke-width="0.5"/>
<text x="191.35" y="385.90" class="xt">31</text>
<line x1="197.12" x2="197.12" y1="380.20" y2="381.50" stroke="#333" stroke-width="0.5"/>
<text x="197.12" y="385.90" class="xt">32</text>
<line x1="202.89" x2="202.89" y1="380.20" y2="381.50" stroke="#333" stroke-width="0.5"/>
<text x="202.89" y="385.90" class="xt">33</text>
<line x1="208.66" x2="208.66" y1="380.20" y2="381.50" stroke="#333" stroke-width="0.5"/>
<text x="208.66" y="385.90" class="xt">34</text>
<line x1="214.43" x2="214.43" y1="380.20" y2="381.50" stroke="#333" stroke-width="0.5"/>
<text x="214.43" y="385.90" class="xt">35</text>
<line x1="220.20" x2="220.20" y1="380.20" y2="381.50" stroke="#333" stroke-width="0.5"/>
<text x="220.20" y="385.90" class="xt">36</text>
<line x1="225.97" x2="225.97" y1="380.20" y2="381.50" stroke="#333" stroke-width="0.5"/>
<text x="225.97" y="385.90" class="xt">37</text>
<line x1="231.74" x2="231.74" y1="380.20" y2="381.50" stroke="#333" stroke-width="0.5"/>
<text x="231.74" y="385.90" class="xt">38</text>
<line x1="237.51" x2="237.51" y1="380.20" y2="381.50" stroke="#333" stroke-width="0.5"/>
<text x="237.51" y="385.90" class="xt">39</text>
<line x1="243.28" x2="243.28" y1="380.20" y2="381.50" stroke="#333" stroke-width="0.5"/>
<text x="243.28" y="385.90" class="xt">40</text>
<line x1="249.05" x2="249.05" y1="380.20" y2="381.50" stroke="#333" stroke-width="0.5"/>
<text x="249.05" y="385.90" class="xt">41</text>
<line x1="254.82" x2="254.82" y1="380.20" y2="381.50" stroke="#333" stroke-width="0.5"/>
<text x="254.82" y="385.90" class="xt">42</text>
<line x1="260.59" x2="260.59" y1="380.20" y2="381.50" stroke="#333" stroke-width="0.5"/>
<text x="260.59" y="385.90" class="xt">43</text>
<line x1="266.36" x2="266.36" y1="380.20" y2="381.50" stroke="#333" stroke-width="0.5"/>
<text x="266.36" y="385.90" class="xt">44</text>
<line x1="272.13" x2="272.13" y1="380.20" y2="381.50" stroke="#333" stroke-width="0.5"/>
<text x="272.13" y="385.90" class="xt">45</text>
<line x1="277.90" x2="277.90" y1="380.20" y2="381.50" stroke="#333" stroke-width="0.5"/>
<text x="277.90" y="385.90" class="xt">46</text>
<line x1="283.67" x2="283.67" y1="380.20" y2="381.50" stroke="#333" stroke-width="0.5"/>
<text x="283.67" y="385.90" class="xt">47</text>
<line x1="289.44" x2="289.44" y1="380.20" y2="381.50" stroke="#333" stroke-width="0.5"/>
<text x="289.44" y="385.90" class="xt">48</text>
<line x1="295.21" x2="295.21" y1="380.20" y2="381.50" stroke="#333" stroke-width="0.5"/>
<text x="295.21" y="385.90" class="xt">49</text>
<line x1="300.98" x2="300.98" y1="380.20" y2="381.50" stroke="#333" stroke-width="0.5"/>
<text x="300.98" y="385.90" class="xt">50</text>
<line x1="306.75" x2="306.75" y1="380.20" y2="381.50" stroke="#333" stroke-width="0.5"/>
<text x="306.75" y="385.90" class="xt">51</text>
<line x1="312.52" x2="312.52" y1="380.20" y2="381.50" stroke="#333" stroke-width="0.5"/>
<text x="312.52" y="385.90" class="xt">52</text>
<line x1="318.29" x2="318.29" y1="380.20" y2="381.50" stroke="#333" stroke-width="0.5"/>
<text x="318.29" y="385.90" class="xt">53</text>
<line x1="324.06" x2="324.06" y1="380.20" y2="381.50" stroke="#333" stroke-width="0.5"/>
<text x="324.06" y="385.90" class="xt">55</text>
<line x1="329.83" x2="329.83" y1="380.20" y2="381.50" stroke="#333" stroke-width="0.5"/>
<text x="329.83" y="385.90" class="xt">56</text>
<line x1="335.60" x2="335.60" y1="380.20" y2="381.50" stroke="#333" stroke-width="0.5"/>
<text x="335.60" y="385.90" class="xt">57</text>
<circle cx="18.25" cy="269.25" r="1.7" fill="none" stroke="#B8479D" stroke-width="0.9"/>
<circle cx="24.02" cy="298.95" r="1.7" fill="none" stroke="#B8479D" stroke-width="0.9"/>
<circle cx="24.02" cy="254.40" r="2.7" fill="none" stroke="#F5A828" stroke-width="0.9"/>
<circle cx="29.79" cy="298.95" r="1.7" fill="none" stroke="#B8479D" stroke-width="0.9"/>
<circle cx="29.79" cy="298.95" r="2.7" fill="none" stroke="#F5A828" stroke-width="0.9"/>
<circle cx="35.56" cy="313.80" r="1.7" fill="none" stroke="#B8479D" stroke-width="0.9"/>
<circle cx="35.56" cy="313.80" r="2.7" fill="none" stroke="#F5A828" stroke-width="0.9"/>
<circle cx="41.33" cy="313.80" r="1.7" fill="none" stroke="#B8479D" stroke-width="0.9"/>
<circle cx="41.33" cy="284.10" r="2.7" fill="none" stroke="#F5A828" stroke-width="0.9"/>
<circle cx="47.10" cy="284.10" r="1.7" fill="none" stroke="#B8479D" stroke-width="0.9"/>
<circle cx="47.10" cy="284.10" r="2.7" fill="none" stroke="#F5A828" stroke-width="0.9"/>
<circle cx="52.87" cy="269.25" r="1.7" fill="none" stroke="#B8479D" stroke-width="0.9"/>
<circle cx="52.87" cy="298.95" r="2.7" fill="none" stroke="#F5A828" stroke-width="0.9"/>
<circle cx="58.64" cy="328.65" r="1.7" fill="none" stroke="#B8479D" stroke-width="0.9"/>
<circle cx="64.41" cy="313.80" r="1.7" fill="none" stroke="#B8479D" stroke-width="0.9"/>
<circle cx="64.41" cy="298.95" r="2.7" fill="none" stroke="#F5A828" stroke-width="0.9"/>
<circle cx="64.41" cy="313.80" r="3.15" fill="none" stroke="#1E4D68" stroke-width="0.95"/>
<circle cx="70.18" cy="269.25" r="1.7" fill="none" stroke="#B8479D" stroke-width="0.9"/>
<circle cx="70.18" cy="284.10" r="2.7" fill="none" stroke="#F5A828" stroke-width="0.9"/>
<circle cx="75.95" cy="254.40" r="1.7" fill="none" stroke="#B8479D" stroke-width="0.9"/>
<circle cx="75.95" cy="298.95" r="2.7" fill="none" stroke="#F5A828" stroke-width="0.9"/>
<circle cx="81.72" cy="313.80" r="1.7" fill="none" stroke="#B8479D" stroke-width="0.9"/>
<circle cx="81.72" cy="298.95" r="2.7" fill="none" stroke="#F5A828" stroke-width="0.9"/>
<circle cx="87.49" cy="298.95" r="1.7" fill="none" stroke="#B8479D" stroke-width="0.9"/>
<circle cx="87.49" cy="298.95" r="2.7" fill="none" stroke="#F5A828" stroke-width="0.9"/>
<circle cx="93.26" cy="313.80" r="1.7" fill="none" stroke="#B8479D" stroke-width="0.9"/>
<circle cx="93.26" cy="313.80" r="2.7" fill="none" stroke="#F5A828" stroke-width="0.9"/>
<circle cx="99.03" cy="313.80" r="1.7" fill="none" stroke="#B8479D" stroke-width="0.9"/>
<circle cx="99.03" cy="284.10" r="2.7" fill="none" stroke="#F5A828" stroke-width="0.9"/>
<circle cx="104.80" cy="328.65" r="1.7" fill="none" stroke="#B8479D" stroke-width="0.9"/>
<circle cx="104.80" cy="343.50" r="2.7" fill="none" stroke="#F5A828" stroke-width="0.9"/>
<circle cx="110.57" cy="313.80" r="1.7" fill="none" stroke="#B8479D" stroke-width="0.9"/>
<circle cx="110.57" cy="343.50" r="2.7" fill="none" stroke="#F5A828" stroke-width="0.9"/>
<circle cx="116.34" cy="313.80" r="1.7" fill="none" stroke="#B8479D" stroke-width="0.9"/>
<circle cx="116.34" cy="343.50" r="2.7" fill="none" stroke="#F5A828" stroke-width="0.9"/>
<circle cx="116.34" cy="343.50" r="3.15" fill="none" stroke="#1E4D68" stroke-width="0.95"/>
<circle cx="122.11" cy="343.50" r="1.7" fill="none" stroke="#B8479D" stroke-width="0.9"/>
<circle cx="122.11" cy="328.65" r="2.7" fill="none" stroke="#F5A828" stroke-width="0.9"/>
<circle cx="127.88" cy="328.65" r="1.7" fill="none" stroke="#B8479D" stroke-width="0.9"/>
<circle cx="127.88" cy="298.95" r="2.7" fill="none" stroke="#F5A828" stroke-width="0.9"/>
<circle cx="133.65" cy="328.65" r="1.7" fill="none" stroke="#B8479D" stroke-width="0.9"/>
<circle cx="133.65" cy="328.65" r="2.7" fill="none" stroke="#F5A828" stroke-width="0.9"/>
<circle cx="139.42" cy="328.65" r="1.7" fill="none" stroke="#B8479D" stroke-width="0.9"/>
<circle cx="139.42" cy="328.65" r="2.7" fill="none" stroke="#F5A828" stroke-width="0.9"/>
<circle cx="145.19" cy="343.50" r="1.7" fill="none" stroke="#B8479D" stroke-width="0.9"/>
<circle cx="145.19" cy="343.50" r="2.7" fill="none" stroke="#F5A828" stroke-width="0.9"/>
<circle cx="150.96" cy="343.50" r="1.7" fill="none" stroke="#B8479D" stroke-width="0.9"/>
<circle cx="156.73" cy="298.95" r="1.7" fill="none" stroke="#B8479D" stroke-width="0.9"/>
<circle cx="156.73" cy="298.95" r="2.7" fill="none" stroke="#F5A828" stroke-width="0.9"/>
<circle cx="162.50" cy="328.65" r="1.7" fill="none" stroke="#B8479D" stroke-width="0.9"/>
<circle cx="162.50" cy="284.10" r="2.7" fill="none" stroke="#F5A828" stroke-width="0.9"/>
<circle cx="168.27" cy="254.40" r="1.7" fill="none" stroke="#B8479D" stroke-width="0.9"/>
<circle cx="168.27" cy="298.95" r="2.7" fill="none" stroke="#F5A828" stroke-width="0.9"/>
<circle cx="174.04" cy="298.95" r="1.7" fill="none" stroke="#B8479D" stroke-width="0.9"/>
<circle cx="179.81" cy="313.80" r="1.7" fill="none" stroke="#B8479D" stroke-width="0.9"/>
<circle cx="179.81" cy="328.65" r="2.7" fill="none" stroke="#F5A828" stroke-width="0.9"/>
<circle cx="179.81" cy="343.50" r="3.15" fill="none" stroke="#1E4D68" stroke-width="0.95"/>
<circle cx="185.58" cy="298.95" r="1.7" fill="none" stroke="#B8479D" stroke-width="0.9"/>
<circle cx="191.35" cy="328.65" r="1.7" fill="none" stroke="#B8479D" stroke-width="0.9"/>
<circle cx="197.12" cy="343.50" r="1.7" fill="none" stroke="#B8479D" stroke-width="0.9"/>
<circle cx="197.12" cy="313.80" r="2.7" fill="none" stroke="#F5A828" stroke-width="0.9"/>
<circle cx="202.89" cy="328.65" r="1.7" fill="none" stroke="#B8479D" stroke-width="0.9"/>
<circle cx="202.89" cy="343.50" r="2.7" fill="none" stroke="#F5A828" stroke-width="0.9"/>
<circle cx="208.66" cy="328.65" r="1.7" fill="none" stroke="#B8479D" stroke-width="0.9"/>
<circle cx="208.66" cy="313.80" r="2.7" fill="none" stroke="#F5A828" stroke-width="0.9"/>
<circle cx="214.43" cy="343.50" r="1.7" fill="none" stroke="#B8479D" stroke-width="0.9"/>
<circle cx="214.43" cy="343.50" r="2.7" fill="none" stroke="#F5A828" stroke-width="0.9"/>
<circle cx="220.20" cy="343.50" r="1.7" fill="none" stroke="#B8479D" stroke-width="0.9"/>
<circle cx="220.20" cy="328.65" r="2.7" fill="none" stroke="#F5A828" stroke-width="0.9"/>
<circle cx="225.97" cy="358.35" r="1.7" fill="none" stroke="#B8479D" stroke-width="0.9"/>
<circle cx="225.97" cy="358.35" r="2.7" fill="none" stroke="#F5A828" stroke-width="0.9"/>
<circle cx="231.74" cy="358.35" r="1.7" fill="none" stroke="#B8479D" stroke-width="0.9"/>
<circle cx="237.51" cy="358.35" r="1.7" fill="none" stroke="#B8479D" stroke-width="0.9"/>
<circle cx="237.51" cy="358.35" r="2.7" fill="none" stroke="#F5A828" stroke-width="0.9"/>
<circle cx="243.28" cy="328.65" r="1.7" fill="none" stroke="#B8479D" stroke-width="0.9"/>
<circle cx="243.28" cy="343.50" r="2.7" fill="none" stroke="#F5A828" stroke-width="0.9"/>
<circle cx="249.05" cy="343.50" r="1.7" fill="none" stroke="#B8479D" stroke-width="0.9"/>
<circle cx="249.05" cy="328.65" r="2.7" fill="none" stroke="#F5A828" stroke-width="0.9"/>
<circle cx="254.82" cy="313.80" r="1.7" fill="none" stroke="#B8479D" stroke-width="0.9"/>
<circle cx="254.82" cy="343.50" r="2.7" fill="none" stroke="#F5A828" stroke-width="0.9"/>
<circle cx="260.59" cy="313.80" r="1.7" fill="none" stroke="#B8479D" stroke-width="0.9"/>
<circle cx="266.36" cy="328.65" r="1.7" fill="none" stroke="#B8479D" stroke-width="0.9"/>
<circle cx="266.36" cy="343.50" r="2.7" fill="none" stroke="#F5A828" stroke-width="0.9"/>
<circle cx="266.36" cy="343.50" r="3.15" fill="none" stroke="#1E4D68" stroke-width="0.95"/>
<circle cx="272.13" cy="328.65" r="1.7" fill="none" stroke="#B8479D" stroke-width="0.9"/>
<circle cx="277.90" cy="328.65" r="1.7" fill="none" stroke="#B8479D" stroke-width="0.9"/>
<circle cx="277.90" cy="313.80" r="2.7" fill="none" stroke="#F5A828" stroke-width="0.9"/>
<circle cx="283.67" cy="343.50" r="1.7" fill="none" stroke="#B8479D" stroke-width="0.9"/>
<circle cx="283.67" cy="328.65" r="2.7" fill="none" stroke="#F5A828" stroke-width="0.9"/>
<circle cx="289.44" cy="328.65" r="1.7" fill="none" stroke="#B8479D" stroke-width="0.9"/>
<circle cx="295.21" cy="328.65" r="1.7" fill="none" stroke="#B8479D" stroke-width="0.9"/>
<circle cx="295.21" cy="328.65" r="2.7" fill="none" stroke="#F5A828" stroke-width="0.9"/>
<circle cx="300.98" cy="328.65" r="1.7" fill="none" stroke="#B8479D" stroke-width="0.9"/>
<circle cx="300.98" cy="328.65" r="2.7" fill="none" stroke="#F5A828" stroke-width="0.9"/>
<circle cx="306.75" cy="343.50" r="1.7" fill="none" stroke="#B8479D" stroke-width="0.9"/>
<circle cx="312.52" cy="373.20" r="1.7" fill="none" stroke="#B8479D" stroke-width="0.9"/>
<circle cx="318.29" cy="328.65" r="1.7" fill="none" stroke="#B8479D" stroke-width="0.9"/>
<circle cx="318.29" cy="298.95" r="2.7" fill="none" stroke="#F5A828" stroke-width="0.9"/>
<circle cx="324.06" cy="328.65" r="1.7" fill="none" stroke="#B8479D" stroke-width="0.9"/>
<circle cx="324.06" cy="284.10" r="2.7" fill="none" stroke="#F5A828" stroke-width="0.9"/>
<circle cx="324.06" cy="313.80" r="3.15" fill="none" stroke="#1E4D68" stroke-width="0.95"/>
<circle cx="324.06" cy="313.80" r="3.7" fill="none" stroke="#7B52A6" stroke-width="0.85"/>
<circle cx="329.83" cy="313.80" r="1.7" fill="none" stroke="#B8479D" stroke-width="0.9"/>
<circle cx="329.83" cy="328.65" r="2.7" fill="none" stroke="#F5A828" stroke-width="0.9"/>
<circle cx="329.83" cy="328.65" r="3.15" fill="none" stroke="#1E4D68" stroke-width="0.95"/>
<circle cx="329.83" cy="328.65" r="3.7" fill="none" stroke="#7B52A6" stroke-width="0.85"/>
<circle cx="335.60" cy="343.50" r="1.7" fill="none" stroke="#B8479D" stroke-width="0.9"/>
<text x="15.50" y="205.40" class="lt">C</text>
<text x="14.60" y="214.50" class="st" textLength="79.7" lengthAdjust="spacingAndGlyphs">Anxious Mood for Caregiver 1</text>
<text x="176.90" y="390.35" class="at" text-anchor="middle" textLength="27.9" lengthAdjust="spacingAndGlyphs">Study Day</text>
<text transform="translate(6.00,299.45) rotate(-90)" class="yl" text-anchor="middle">Anxiety Score</text>
<line x1="358.40" x2="682.00" y1="359.46" y2="359.46" stroke="#F3F3F3" stroke-width="0.6"/>
<line x1="358.40" x2="682.00" y1="329.78" y2="329.78" stroke="#F3F3F3" stroke-width="0.6"/>
<line x1="358.40" x2="682.00" y1="300.10" y2="300.10" stroke="#F3F3F3" stroke-width="0.6"/>
<line x1="358.40" x2="682.00" y1="270.42" y2="270.42" stroke="#F3F3F3" stroke-width="0.6"/>
<line x1="358.40" x2="682.00" y1="240.74" y2="240.74" stroke="#F3F3F3" stroke-width="0.6"/>
<line x1="358.40" x2="682.00" y1="374.30" y2="374.30" stroke="#F1F1F1" stroke-width="0.8"/>
<line x1="358.40" x2="682.00" y1="344.62" y2="344.62" stroke="#F1F1F1" stroke-width="0.8"/>
<line x1="358.40" x2="682.00" y1="314.94" y2="314.94" stroke="#F1F1F1" stroke-width="0.8"/>
<line x1="358.40" x2="682.00" y1="285.26" y2="285.26" stroke="#F1F1F1" stroke-width="0.8"/>
<line x1="358.40" x2="682.00" y1="255.58" y2="255.58" stroke="#F1F1F1" stroke-width="0.8"/>
<line x1="358.40" x2="682.00" y1="225.90" y2="225.90" stroke="#F1F1F1" stroke-width="0.8"/>
<line x1="361.50" x2="361.50" y1="218.30" y2="381.20" stroke="#F1F1F1" stroke-width="0.8"/>
<line x1="367.26" x2="367.26" y1="218.30" y2="381.20" stroke="#F1F1F1" stroke-width="0.8"/>
<line x1="373.02" x2="373.02" y1="218.30" y2="381.20" stroke="#F1F1F1" stroke-width="0.8"/>
<line x1="378.78" x2="378.78" y1="218.30" y2="381.20" stroke="#F1F1F1" stroke-width="0.8"/>
<line x1="384.54" x2="384.54" y1="218.30" y2="381.20" stroke="#F1F1F1" stroke-width="0.8"/>
<line x1="390.30" x2="390.30" y1="218.30" y2="381.20" stroke="#F1F1F1" stroke-width="0.8"/>
<line x1="396.06" x2="396.06" y1="218.30" y2="381.20" stroke="#F1F1F1" stroke-width="0.8"/>
<line x1="401.82" x2="401.82" y1="218.30" y2="381.20" stroke="#F1F1F1" stroke-width="0.8"/>
<line x1="407.58" x2="407.58" y1="218.30" y2="381.20" stroke="#F1F1F1" stroke-width="0.8"/>
<line x1="413.34" x2="413.34" y1="218.30" y2="381.20" stroke="#F1F1F1" stroke-width="0.8"/>
<line x1="419.10" x2="419.10" y1="218.30" y2="381.20" stroke="#F1F1F1" stroke-width="0.8"/>
<line x1="424.86" x2="424.86" y1="218.30" y2="381.20" stroke="#F1F1F1" stroke-width="0.8"/>
<line x1="430.62" x2="430.62" y1="218.30" y2="381.20" stroke="#F1F1F1" stroke-width="0.8"/>
<line x1="436.38" x2="436.38" y1="218.30" y2="381.20" stroke="#F1F1F1" stroke-width="0.8"/>
<line x1="442.14" x2="442.14" y1="218.30" y2="381.20" stroke="#F1F1F1" stroke-width="0.8"/>
<line x1="447.90" x2="447.90" y1="218.30" y2="381.20" stroke="#F1F1F1" stroke-width="0.8"/>
<line x1="453.66" x2="453.66" y1="218.30" y2="381.20" stroke="#F1F1F1" stroke-width="0.8"/>
<line x1="459.42" x2="459.42" y1="218.30" y2="381.20" stroke="#F1F1F1" stroke-width="0.8"/>
<line x1="465.18" x2="465.18" y1="218.30" y2="381.20" stroke="#F1F1F1" stroke-width="0.8"/>
<line x1="470.94" x2="470.94" y1="218.30" y2="381.20" stroke="#F1F1F1" stroke-width="0.8"/>
<line x1="476.70" x2="476.70" y1="218.30" y2="381.20" stroke="#F1F1F1" stroke-width="0.8"/>
<line x1="482.46" x2="482.46" y1="218.30" y2="381.20" stroke="#F1F1F1" stroke-width="0.8"/>
<line x1="488.22" x2="488.22" y1="218.30" y2="381.20" stroke="#F1F1F1" stroke-width="0.8"/>
<line x1="493.98" x2="493.98" y1="218.30" y2="381.20" stroke="#F1F1F1" stroke-width="0.8"/>
<line x1="499.74" x2="499.74" y1="218.30" y2="381.20" stroke="#F1F1F1" stroke-width="0.8"/>
<line x1="505.50" x2="505.50" y1="218.30" y2="381.20" stroke="#F1F1F1" stroke-width="0.8"/>
<line x1="511.26" x2="511.26" y1="218.30" y2="381.20" stroke="#F1F1F1" stroke-width="0.8"/>
<line x1="517.02" x2="517.02" y1="218.30" y2="381.20" stroke="#F1F1F1" stroke-width="0.8"/>
<line x1="522.78" x2="522.78" y1="218.30" y2="381.20" stroke="#F1F1F1" stroke-width="0.8"/>
<line x1="528.54" x2="528.54" y1="218.30" y2="381.20" stroke="#F1F1F1" stroke-width="0.8"/>
<line x1="534.30" x2="534.30" y1="218.30" y2="381.20" stroke="#F1F1F1" stroke-width="0.8"/>
<line x1="540.06" x2="540.06" y1="218.30" y2="381.20" stroke="#F1F1F1" stroke-width="0.8"/>
<line x1="545.82" x2="545.82" y1="218.30" y2="381.20" stroke="#F1F1F1" stroke-width="0.8"/>
<line x1="551.58" x2="551.58" y1="218.30" y2="381.20" stroke="#F1F1F1" stroke-width="0.8"/>
<line x1="557.34" x2="557.34" y1="218.30" y2="381.20" stroke="#F1F1F1" stroke-width="0.8"/>
<line x1="563.10" x2="563.10" y1="218.30" y2="381.20" stroke="#F1F1F1" stroke-width="0.8"/>
<line x1="568.86" x2="568.86" y1="218.30" y2="381.20" stroke="#F1F1F1" stroke-width="0.8"/>
<line x1="574.62" x2="574.62" y1="218.30" y2="381.20" stroke="#F1F1F1" stroke-width="0.8"/>
<line x1="580.38" x2="580.38" y1="218.30" y2="381.20" stroke="#F1F1F1" stroke-width="0.8"/>
<line x1="586.14" x2="586.14" y1="218.30" y2="381.20" stroke="#F1F1F1" stroke-width="0.8"/>
<line x1="591.90" x2="591.90" y1="218.30" y2="381.20" stroke="#F1F1F1" stroke-width="0.8"/>
<line x1="597.66" x2="597.66" y1="218.30" y2="381.20" stroke="#F1F1F1" stroke-width="0.8"/>
<line x1="603.42" x2="603.42" y1="218.30" y2="381.20" stroke="#F1F1F1" stroke-width="0.8"/>
<line x1="609.18" x2="609.18" y1="218.30" y2="381.20" stroke="#F1F1F1" stroke-width="0.8"/>
<line x1="614.94" x2="614.94" y1="218.30" y2="381.20" stroke="#F1F1F1" stroke-width="0.8"/>
<line x1="620.70" x2="620.70" y1="218.30" y2="381.20" stroke="#F1F1F1" stroke-width="0.8"/>
<line x1="626.46" x2="626.46" y1="218.30" y2="381.20" stroke="#F1F1F1" stroke-width="0.8"/>
<line x1="632.22" x2="632.22" y1="218.30" y2="381.20" stroke="#F1F1F1" stroke-width="0.8"/>
<line x1="637.98" x2="637.98" y1="218.30" y2="381.20" stroke="#F1F1F1" stroke-width="0.8"/>
<line x1="643.74" x2="643.74" y1="218.30" y2="381.20" stroke="#F1F1F1" stroke-width="0.8"/>
<line x1="649.50" x2="649.50" y1="218.30" y2="381.20" stroke="#F1F1F1" stroke-width="0.8"/>
<line x1="655.26" x2="655.26" y1="218.30" y2="381.20" stroke="#F1F1F1" stroke-width="0.8"/>
<line x1="661.02" x2="661.02" y1="218.30" y2="381.20" stroke="#F1F1F1" stroke-width="0.8"/>
<line x1="666.78" x2="666.78" y1="218.30" y2="381.20" stroke="#F1F1F1" stroke-width="0.8"/>
<line x1="672.54" x2="672.54" y1="218.30" y2="381.20" stroke="#F1F1F1" stroke-width="0.8"/>
<line x1="678.30" x2="678.30" y1="218.30" y2="381.20" stroke="#F1F1F1" stroke-width="0.8"/>
<path d="M358.40,381.30V218.40H681.40" fill="none" stroke="#C4C4C4" stroke-width="0.9" stroke-linecap="square"/>
<path d="M681.40,218.40V381.30H358.40" fill="none" stroke="#B3B3B3" stroke-width="0.9" stroke-linecap="square"/>
<line x1="357.10" x2="358.40" y1="374.30" y2="374.30" stroke="#333" stroke-width="0.5"/>
<text x="356.60" y="376.25" class="yt">0</text>
<line x1="357.10" x2="358.40" y1="344.62" y2="344.62" stroke="#333" stroke-width="0.5"/>
<text x="356.60" y="346.57" class="yt">2</text>
<line x1="357.10" x2="358.40" y1="314.94" y2="314.94" stroke="#333" stroke-width="0.5"/>
<text x="356.60" y="316.89" class="yt">4</text>
<line x1="357.10" x2="358.40" y1="285.26" y2="285.26" stroke="#333" stroke-width="0.5"/>
<text x="356.60" y="287.21" class="yt">6</text>
<line x1="357.10" x2="358.40" y1="255.58" y2="255.58" stroke="#333" stroke-width="0.5"/>
<text x="356.60" y="257.53" class="yt">8</text>
<line x1="357.10" x2="358.40" y1="225.90" y2="225.90" stroke="#333" stroke-width="0.5"/>
<text x="356.60" y="227.85" class="yt">10</text>
<line x1="361.50" x2="361.50" y1="381.20" y2="382.50" stroke="#333" stroke-width="0.5"/>
<text x="361.50" y="386.90" class="xt">1</text>
<line x1="367.26" x2="367.26" y1="381.20" y2="382.50" stroke="#333" stroke-width="0.5"/>
<text x="367.26" y="386.90" class="xt">2</text>
<line x1="373.02" x2="373.02" y1="381.20" y2="382.50" stroke="#333" stroke-width="0.5"/>
<text x="373.02" y="386.90" class="xt">3</text>
<line x1="378.78" x2="378.78" y1="381.20" y2="382.50" stroke="#333" stroke-width="0.5"/>
<text x="378.78" y="386.90" class="xt">4</text>
<line x1="384.54" x2="384.54" y1="381.20" y2="382.50" stroke="#333" stroke-width="0.5"/>
<text x="384.54" y="386.90" class="xt">5</text>
<line x1="390.30" x2="390.30" y1="381.20" y2="382.50" stroke="#333" stroke-width="0.5"/>
<text x="390.30" y="386.90" class="xt">6</text>
<line x1="396.06" x2="396.06" y1="381.20" y2="382.50" stroke="#333" stroke-width="0.5"/>
<text x="396.06" y="386.90" class="xt">7</text>
<line x1="401.82" x2="401.82" y1="381.20" y2="382.50" stroke="#333" stroke-width="0.5"/>
<text x="401.82" y="386.90" class="xt">8</text>
<line x1="407.58" x2="407.58" y1="381.20" y2="382.50" stroke="#333" stroke-width="0.5"/>
<text x="407.58" y="386.90" class="xt">9</text>
<line x1="413.34" x2="413.34" y1="381.20" y2="382.50" stroke="#333" stroke-width="0.5"/>
<text x="413.34" y="386.90" class="xt">10</text>
<line x1="419.10" x2="419.10" y1="381.20" y2="382.50" stroke="#333" stroke-width="0.5"/>
<text x="419.10" y="386.90" class="xt">11</text>
<line x1="424.86" x2="424.86" y1="381.20" y2="382.50" stroke="#333" stroke-width="0.5"/>
<text x="424.86" y="386.90" class="xt">12</text>
<line x1="430.62" x2="430.62" y1="381.20" y2="382.50" stroke="#333" stroke-width="0.5"/>
<text x="430.62" y="386.90" class="xt">13</text>
<line x1="436.38" x2="436.38" y1="381.20" y2="382.50" stroke="#333" stroke-width="0.5"/>
<text x="436.38" y="386.90" class="xt">14</text>
<line x1="442.14" x2="442.14" y1="381.20" y2="382.50" stroke="#333" stroke-width="0.5"/>
<text x="442.14" y="386.90" class="xt">15</text>
<line x1="447.90" x2="447.90" y1="381.20" y2="382.50" stroke="#333" stroke-width="0.5"/>
<text x="447.90" y="386.90" class="xt">16</text>
<line x1="453.66" x2="453.66" y1="381.20" y2="382.50" stroke="#333" stroke-width="0.5"/>
<text x="453.66" y="386.90" class="xt">17</text>
<line x1="459.42" x2="459.42" y1="381.20" y2="382.50" stroke="#333" stroke-width="0.5"/>
<text x="459.42" y="386.90" class="xt">18</text>
<line x1="465.18" x2="465.18" y1="381.20" y2="382.50" stroke="#333" stroke-width="0.5"/>
<text x="465.18" y="386.90" class="xt">19</text>
<line x1="470.94" x2="470.94" y1="381.20" y2="382.50" stroke="#333" stroke-width="0.5"/>
<text x="470.94" y="386.90" class="xt">20</text>
<line x1="476.70" x2="476.70" y1="381.20" y2="382.50" stroke="#333" stroke-width="0.5"/>
<text x="476.70" y="386.90" class="xt">21</text>
<line x1="482.46" x2="482.46" y1="381.20" y2="382.50" stroke="#333" stroke-width="0.5"/>
<text x="482.46" y="386.90" class="xt">22</text>
<line x1="488.22" x2="488.22" y1="381.20" y2="382.50" stroke="#333" stroke-width="0.5"/>
<text x="488.22" y="386.90" class="xt">23</text>
<line x1="493.98" x2="493.98" y1="381.20" y2="382.50" stroke="#333" stroke-width="0.5"/>
<text x="493.98" y="386.90" class="xt">24</text>
<line x1="499.74" x2="499.74" y1="381.20" y2="382.50" stroke="#333" stroke-width="0.5"/>
<text x="499.74" y="386.90" class="xt">25</text>
<line x1="505.50" x2="505.50" y1="381.20" y2="382.50" stroke="#333" stroke-width="0.5"/>
<text x="505.50" y="386.90" class="xt">26</text>
<line x1="511.26" x2="511.26" y1="381.20" y2="382.50" stroke="#333" stroke-width="0.5"/>
<text x="511.26" y="386.90" class="xt">27</text>
<line x1="517.02" x2="517.02" y1="381.20" y2="382.50" stroke="#333" stroke-width="0.5"/>
<text x="517.02" y="386.90" class="xt">28</text>
<line x1="522.78" x2="522.78" y1="381.20" y2="382.50" stroke="#333" stroke-width="0.5"/>
<text x="522.78" y="386.90" class="xt">29</text>
<line x1="528.54" x2="528.54" y1="381.20" y2="382.50" stroke="#333" stroke-width="0.5"/>
<text x="528.54" y="386.90" class="xt">30</text>
<line x1="534.30" x2="534.30" y1="381.20" y2="382.50" stroke="#333" stroke-width="0.5"/>
<text x="534.30" y="386.90" class="xt">31</text>
<line x1="540.06" x2="540.06" y1="381.20" y2="382.50" stroke="#333" stroke-width="0.5"/>
<text x="540.06" y="386.90" class="xt">32</text>
<line x1="545.82" x2="545.82" y1="381.20" y2="382.50" stroke="#333" stroke-width="0.5"/>
<text x="545.82" y="386.90" class="xt">33</text>
<line x1="551.58" x2="551.58" y1="381.20" y2="382.50" stroke="#333" stroke-width="0.5"/>
<text x="551.58" y="386.90" class="xt">34</text>
<line x1="557.34" x2="557.34" y1="381.20" y2="382.50" stroke="#333" stroke-width="0.5"/>
<text x="557.34" y="386.90" class="xt">35</text>
<line x1="563.10" x2="563.10" y1="381.20" y2="382.50" stroke="#333" stroke-width="0.5"/>
<text x="563.10" y="386.90" class="xt">36</text>
<line x1="568.86" x2="568.86" y1="381.20" y2="382.50" stroke="#333" stroke-width="0.5"/>
<text x="568.86" y="386.90" class="xt">37</text>
<line x1="574.62" x2="574.62" y1="381.20" y2="382.50" stroke="#333" stroke-width="0.5"/>
<text x="574.62" y="386.90" class="xt">38</text>
<line x1="580.38" x2="580.38" y1="381.20" y2="382.50" stroke="#333" stroke-width="0.5"/>
<text x="580.38" y="386.90" class="xt">39</text>
<line x1="586.14" x2="586.14" y1="381.20" y2="382.50" stroke="#333" stroke-width="0.5"/>
<text x="586.14" y="386.90" class="xt">40</text>
<line x1="591.90" x2="591.90" y1="381.20" y2="382.50" stroke="#333" stroke-width="0.5"/>
<text x="591.90" y="386.90" class="xt">41</text>
<line x1="597.66" x2="597.66" y1="381.20" y2="382.50" stroke="#333" stroke-width="0.5"/>
<text x="597.66" y="386.90" class="xt">42</text>
<line x1="603.42" x2="603.42" y1="381.20" y2="382.50" stroke="#333" stroke-width="0.5"/>
<text x="603.42" y="386.90" class="xt">43</text>
<line x1="609.18" x2="609.18" y1="381.20" y2="382.50" stroke="#333" stroke-width="0.5"/>
<text x="609.18" y="386.90" class="xt">44</text>
<line x1="614.94" x2="614.94" y1="381.20" y2="382.50" stroke="#333" stroke-width="0.5"/>
<text x="614.94" y="386.90" class="xt">45</text>
<line x1="620.70" x2="620.70" y1="381.20" y2="382.50" stroke="#333" stroke-width="0.5"/>
<text x="620.70" y="386.90" class="xt">46</text>
<line x1="626.46" x2="626.46" y1="381.20" y2="382.50" stroke="#333" stroke-width="0.5"/>
<text x="626.46" y="386.90" class="xt">47</text>
<line x1="632.22" x2="632.22" y1="381.20" y2="382.50" stroke="#333" stroke-width="0.5"/>
<text x="632.22" y="386.90" class="xt">48</text>
<line x1="637.98" x2="637.98" y1="381.20" y2="382.50" stroke="#333" stroke-width="0.5"/>
<text x="637.98" y="386.90" class="xt">49</text>
<line x1="643.74" x2="643.74" y1="381.20" y2="382.50" stroke="#333" stroke-width="0.5"/>
<text x="643.74" y="386.90" class="xt">50</text>
<line x1="649.50" x2="649.50" y1="381.20" y2="382.50" stroke="#333" stroke-width="0.5"/>
<text x="649.50" y="386.90" class="xt">51</text>
<line x1="655.26" x2="655.26" y1="381.20" y2="382.50" stroke="#333" stroke-width="0.5"/>
<text x="655.26" y="386.90" class="xt">52</text>
<line x1="661.02" x2="661.02" y1="381.20" y2="382.50" stroke="#333" stroke-width="0.5"/>
<text x="661.02" y="386.90" class="xt">53</text>
<line x1="666.78" x2="666.78" y1="381.20" y2="382.50" stroke="#333" stroke-width="0.5"/>
<text x="666.78" y="386.90" class="xt">55</text>
<line x1="672.54" x2="672.54" y1="381.20" y2="382.50" stroke="#333" stroke-width="0.5"/>
<text x="672.54" y="386.90" class="xt">56</text>
<line x1="678.30" x2="678.30" y1="381.20" y2="382.50" stroke="#333" stroke-width="0.5"/>
<text x="678.30" y="386.90" class="xt">57</text>
<circle cx="361.50" cy="374.30" r="1.7" fill="none" stroke="#B8479D" stroke-width="0.9"/>
<circle cx="367.26" cy="374.30" r="1.7" fill="none" stroke="#B8479D" stroke-width="0.9"/>
<circle cx="367.26" cy="374.30" r="2.7" fill="none" stroke="#F5A828" stroke-width="0.9"/>
<circle cx="373.02" cy="374.30" r="1.7" fill="none" stroke="#B8479D" stroke-width="0.9"/>
<circle cx="373.02" cy="374.30" r="2.7" fill="none" stroke="#F5A828" stroke-width="0.9"/>
<circle cx="378.78" cy="374.30" r="1.7" fill="none" stroke="#B8479D" stroke-width="0.9"/>
<circle cx="378.78" cy="374.30" r="2.7" fill="none" stroke="#F5A828" stroke-width="0.9"/>
<circle cx="384.54" cy="374.30" r="1.7" fill="none" stroke="#B8479D" stroke-width="0.9"/>
<circle cx="384.54" cy="374.30" r="2.7" fill="none" stroke="#F5A828" stroke-width="0.9"/>
<circle cx="390.30" cy="374.30" r="1.7" fill="none" stroke="#B8479D" stroke-width="0.9"/>
<circle cx="390.30" cy="374.30" r="2.7" fill="none" stroke="#F5A828" stroke-width="0.9"/>
<circle cx="396.06" cy="374.30" r="1.7" fill="none" stroke="#B8479D" stroke-width="0.9"/>
<circle cx="396.06" cy="374.30" r="2.7" fill="none" stroke="#F5A828" stroke-width="0.9"/>
<circle cx="401.82" cy="374.30" r="1.7" fill="none" stroke="#B8479D" stroke-width="0.9"/>
<circle cx="407.58" cy="374.30" r="1.7" fill="none" stroke="#B8479D" stroke-width="0.9"/>
<circle cx="407.58" cy="374.30" r="2.7" fill="none" stroke="#F5A828" stroke-width="0.9"/>
<circle cx="407.58" cy="374.30" r="3.15" fill="none" stroke="#1E4D68" stroke-width="0.95"/>
<circle cx="413.34" cy="374.30" r="1.7" fill="none" stroke="#B8479D" stroke-width="0.9"/>
<circle cx="413.34" cy="374.30" r="2.7" fill="none" stroke="#F5A828" stroke-width="0.9"/>
<circle cx="419.10" cy="374.30" r="1.7" fill="none" stroke="#B8479D" stroke-width="0.9"/>
<circle cx="419.10" cy="374.30" r="2.7" fill="none" stroke="#F5A828" stroke-width="0.9"/>
<circle cx="424.86" cy="374.30" r="1.7" fill="none" stroke="#B8479D" stroke-width="0.9"/>
<circle cx="424.86" cy="374.30" r="2.7" fill="none" stroke="#F5A828" stroke-width="0.9"/>
<circle cx="430.62" cy="374.30" r="1.7" fill="none" stroke="#B8479D" stroke-width="0.9"/>
<circle cx="430.62" cy="374.30" r="2.7" fill="none" stroke="#F5A828" stroke-width="0.9"/>
<circle cx="436.38" cy="374.30" r="1.7" fill="none" stroke="#B8479D" stroke-width="0.9"/>
<circle cx="436.38" cy="374.30" r="2.7" fill="none" stroke="#F5A828" stroke-width="0.9"/>
<circle cx="442.14" cy="374.30" r="1.7" fill="none" stroke="#B8479D" stroke-width="0.9"/>
<circle cx="442.14" cy="374.30" r="2.7" fill="none" stroke="#F5A828" stroke-width="0.9"/>
<circle cx="447.90" cy="374.30" r="1.7" fill="none" stroke="#B8479D" stroke-width="0.9"/>
<circle cx="447.90" cy="374.30" r="2.7" fill="none" stroke="#F5A828" stroke-width="0.9"/>
<circle cx="453.66" cy="374.30" r="1.7" fill="none" stroke="#B8479D" stroke-width="0.9"/>
<circle cx="453.66" cy="374.30" r="2.7" fill="none" stroke="#F5A828" stroke-width="0.9"/>
<circle cx="459.42" cy="374.30" r="1.7" fill="none" stroke="#B8479D" stroke-width="0.9"/>
<circle cx="459.42" cy="374.30" r="2.7" fill="none" stroke="#F5A828" stroke-width="0.9"/>
<circle cx="459.42" cy="374.30" r="3.15" fill="none" stroke="#1E4D68" stroke-width="0.95"/>
<circle cx="465.18" cy="374.30" r="1.7" fill="none" stroke="#B8479D" stroke-width="0.9"/>
<circle cx="465.18" cy="374.30" r="2.7" fill="none" stroke="#F5A828" stroke-width="0.9"/>
<circle cx="470.94" cy="374.30" r="1.7" fill="none" stroke="#B8479D" stroke-width="0.9"/>
<circle cx="470.94" cy="374.30" r="2.7" fill="none" stroke="#F5A828" stroke-width="0.9"/>
<circle cx="476.70" cy="374.30" r="1.7" fill="none" stroke="#B8479D" stroke-width="0.9"/>
<circle cx="476.70" cy="374.30" r="2.7" fill="none" stroke="#F5A828" stroke-width="0.9"/>
<circle cx="482.46" cy="374.30" r="1.7" fill="none" stroke="#B8479D" stroke-width="0.9"/>
<circle cx="482.46" cy="374.30" r="2.7" fill="none" stroke="#F5A828" stroke-width="0.9"/>
<circle cx="488.22" cy="374.30" r="1.7" fill="none" stroke="#B8479D" stroke-width="0.9"/>
<circle cx="488.22" cy="374.30" r="2.7" fill="none" stroke="#F5A828" stroke-width="0.9"/>
<circle cx="493.98" cy="374.30" r="1.7" fill="none" stroke="#B8479D" stroke-width="0.9"/>
<circle cx="499.74" cy="374.30" r="1.7" fill="none" stroke="#B8479D" stroke-width="0.9"/>
<circle cx="499.74" cy="374.30" r="2.7" fill="none" stroke="#F5A828" stroke-width="0.9"/>
<circle cx="505.50" cy="374.30" r="1.7" fill="none" stroke="#B8479D" stroke-width="0.9"/>
<circle cx="505.50" cy="374.30" r="2.7" fill="none" stroke="#F5A828" stroke-width="0.9"/>
<circle cx="511.26" cy="374.30" r="1.7" fill="none" stroke="#B8479D" stroke-width="0.9"/>
<circle cx="511.26" cy="374.30" r="2.7" fill="none" stroke="#F5A828" stroke-width="0.9"/>
<circle cx="517.02" cy="374.30" r="1.7" fill="none" stroke="#B8479D" stroke-width="0.9"/>
<circle cx="522.78" cy="374.30" r="1.7" fill="none" stroke="#B8479D" stroke-width="0.9"/>
<circle cx="522.78" cy="374.30" r="2.7" fill="none" stroke="#F5A828" stroke-width="0.9"/>
<circle cx="522.78" cy="374.30" r="3.15" fill="none" stroke="#1E4D68" stroke-width="0.95"/>
<circle cx="528.54" cy="374.30" r="1.7" fill="none" stroke="#B8479D" stroke-width="0.9"/>
<circle cx="534.30" cy="374.30" r="1.7" fill="none" stroke="#B8479D" stroke-width="0.9"/>
<circle cx="540.06" cy="374.30" r="1.7" fill="none" stroke="#B8479D" stroke-width="0.9"/>
<circle cx="540.06" cy="374.30" r="2.7" fill="none" stroke="#F5A828" stroke-width="0.9"/>
<circle cx="545.82" cy="374.30" r="1.7" fill="none" stroke="#B8479D" stroke-width="0.9"/>
<circle cx="545.82" cy="374.30" r="2.7" fill="none" stroke="#F5A828" stroke-width="0.9"/>
<circle cx="551.58" cy="374.30" r="1.7" fill="none" stroke="#B8479D" stroke-width="0.9"/>
<circle cx="551.58" cy="374.30" r="2.7" fill="none" stroke="#F5A828" stroke-width="0.9"/>
<circle cx="557.34" cy="374.30" r="1.7" fill="none" stroke="#B8479D" stroke-width="0.9"/>
<circle cx="557.34" cy="374.30" r="2.7" fill="none" stroke="#F5A828" stroke-width="0.9"/>
<circle cx="563.10" cy="374.30" r="1.7" fill="none" stroke="#B8479D" stroke-width="0.9"/>
<circle cx="563.10" cy="374.30" r="2.7" fill="none" stroke="#F5A828" stroke-width="0.9"/>
<circle cx="568.86" cy="374.30" r="1.7" fill="none" stroke="#B8479D" stroke-width="0.9"/>
<circle cx="568.86" cy="374.30" r="2.7" fill="none" stroke="#F5A828" stroke-width="0.9"/>
<circle cx="574.62" cy="374.30" r="1.7" fill="none" stroke="#B8479D" stroke-width="0.9"/>
<circle cx="580.38" cy="374.30" r="1.7" fill="none" stroke="#B8479D" stroke-width="0.9"/>
<circle cx="580.38" cy="374.30" r="2.7" fill="none" stroke="#F5A828" stroke-width="0.9"/>
<circle cx="586.14" cy="374.30" r="1.7" fill="none" stroke="#B8479D" stroke-width="0.9"/>
<circle cx="586.14" cy="374.30" r="2.7" fill="none" stroke="#F5A828" stroke-width="0.9"/>
<circle cx="591.90" cy="374.30" r="1.7" fill="none" stroke="#B8479D" stroke-width="0.9"/>
<circle cx="591.90" cy="374.30" r="2.7" fill="none" stroke="#F5A828" stroke-width="0.9"/>
<circle cx="597.66" cy="374.30" r="1.7" fill="none" stroke="#B8479D" stroke-width="0.9"/>
<circle cx="597.66" cy="374.30" r="2.7" fill="none" stroke="#F5A828" stroke-width="0.9"/>
<circle cx="603.42" cy="374.30" r="1.7" fill="none" stroke="#B8479D" stroke-width="0.9"/>
<circle cx="609.18" cy="374.30" r="1.7" fill="none" stroke="#B8479D" stroke-width="0.9"/>
<circle cx="609.18" cy="374.30" r="2.7" fill="none" stroke="#F5A828" stroke-width="0.9"/>
<circle cx="609.18" cy="374.30" r="3.15" fill="none" stroke="#1E4D68" stroke-width="0.95"/>
<circle cx="614.94" cy="374.30" r="1.7" fill="none" stroke="#B8479D" stroke-width="0.9"/>
<circle cx="620.70" cy="374.30" r="1.7" fill="none" stroke="#B8479D" stroke-width="0.9"/>
<circle cx="620.70" cy="374.30" r="2.7" fill="none" stroke="#F5A828" stroke-width="0.9"/>
<circle cx="626.46" cy="374.30" r="1.7" fill="none" stroke="#B8479D" stroke-width="0.9"/>
<circle cx="626.46" cy="374.30" r="2.7" fill="none" stroke="#F5A828" stroke-width="0.9"/>
<circle cx="632.22" cy="374.30" r="1.7" fill="none" stroke="#B8479D" stroke-width="0.9"/>
<circle cx="637.98" cy="374.30" r="1.7" fill="none" stroke="#B8479D" stroke-width="0.9"/>
<circle cx="637.98" cy="374.30" r="2.7" fill="none" stroke="#F5A828" stroke-width="0.9"/>
<circle cx="643.74" cy="374.30" r="1.7" fill="none" stroke="#B8479D" stroke-width="0.9"/>
<circle cx="643.74" cy="374.30" r="2.7" fill="none" stroke="#F5A828" stroke-width="0.9"/>
<circle cx="649.50" cy="374.30" r="1.7" fill="none" stroke="#B8479D" stroke-width="0.9"/>
<circle cx="655.26" cy="374.30" r="1.7" fill="none" stroke="#B8479D" stroke-width="0.9"/>
<circle cx="661.02" cy="374.30" r="1.7" fill="none" stroke="#B8479D" stroke-width="0.9"/>
<circle cx="661.02" cy="374.30" r="2.7" fill="none" stroke="#F5A828" stroke-width="0.9"/>
<circle cx="666.78" cy="374.30" r="1.7" fill="none" stroke="#B8479D" stroke-width="0.9"/>
<circle cx="666.78" cy="374.30" r="2.7" fill="none" stroke="#F5A828" stroke-width="0.9"/>
<circle cx="666.78" cy="374.30" r="3.15" fill="none" stroke="#1E4D68" stroke-width="0.95"/>
<circle cx="666.78" cy="374.30" r="3.7" fill="none" stroke="#7B52A6" stroke-width="0.85"/>
<circle cx="672.54" cy="374.30" r="1.7" fill="none" stroke="#B8479D" stroke-width="0.9"/>
<circle cx="672.54" cy="374.30" r="2.7" fill="none" stroke="#F5A828" stroke-width="0.9"/>
<circle cx="672.54" cy="374.30" r="3.15" fill="none" stroke="#1E4D68" stroke-width="0.95"/>
<circle cx="672.54" cy="374.30" r="3.7" fill="none" stroke="#7B52A6" stroke-width="0.85"/>
<circle cx="678.30" cy="374.30" r="1.7" fill="none" stroke="#B8479D" stroke-width="0.9"/>
<text x="359.10" y="205.30" class="lt">D</text>
<text x="358.10" y="214.80" class="st" textLength="73.6" lengthAdjust="spacingAndGlyphs">Angry Mood for Caregiver 1</text>
<text x="520.20" y="391.35" class="at" text-anchor="middle" textLength="27.9" lengthAdjust="spacingAndGlyphs">Study Day</text>
<text transform="translate(349.60,300.45) rotate(-90)" class="yl" text-anchor="middle">Anger Score</text>
<rect x="599.4" y="226.1" width="75.0" height="69.9" fill="#fff" stroke="#222" stroke-width="0.9"/>
<text x="607.6" y="235.2" class="lgt" textLength="58.2" lengthAdjust="spacingAndGlyphs">Survey Sequence</text>
<circle cx="615.4" cy="245.6" r="2.7" fill="none" stroke="#B8479D" stroke-width="1.1"/>
<text x="627.0" y="247.80" class="lg" textLength="31.5" lengthAdjust="spacingAndGlyphs">First Survey</text>
<circle cx="615.4" cy="257.4" r="4.85" fill="none" stroke="#F5A828" stroke-width="1.2"/>
<text x="627.0" y="259.60" class="lg" textLength="40.0" lengthAdjust="spacingAndGlyphs">Second Survey</text>
<circle cx="615.4" cy="269.8" r="5.95" fill="none" stroke="#1E4D68" stroke-width="1.3"/>
<text x="627.0" y="272.60" class="lg" textLength="33.4" lengthAdjust="spacingAndGlyphs">Third Survey</text>
<circle cx="615.4" cy="284.0" r="6.45" fill="none" stroke="#7B52A6" stroke-width="1.15"/>
<text x="627.0" y="286.80" class="lg" textLength="37.0" lengthAdjust="spacingAndGlyphs">Fourth Survey</text>
</svg>
</body></html>
